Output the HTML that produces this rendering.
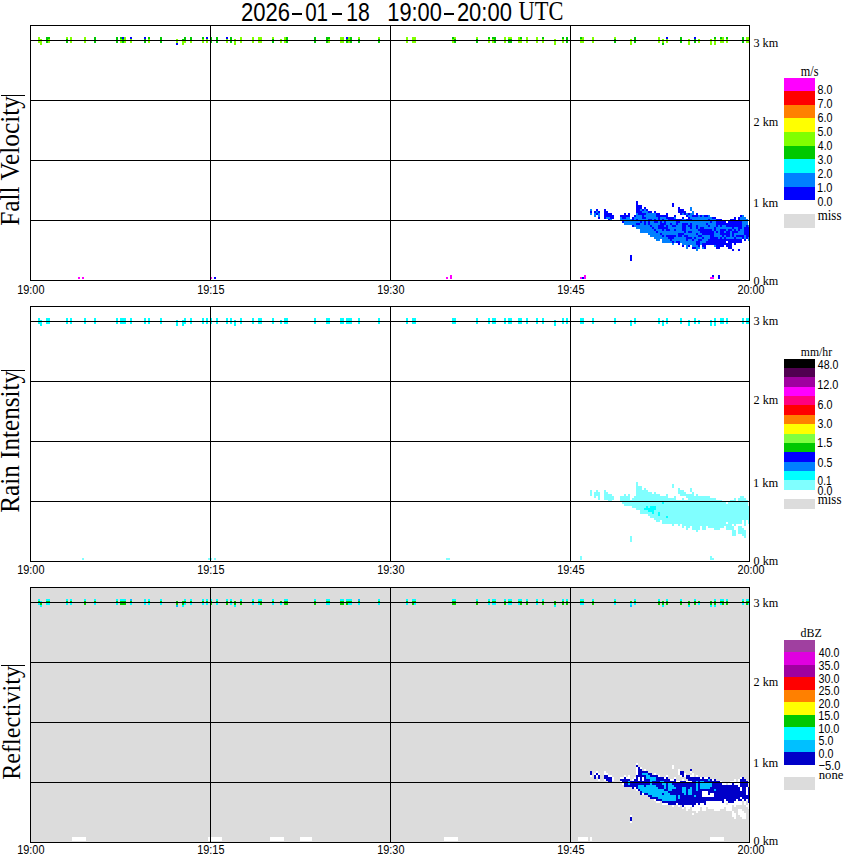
<!DOCTYPE html>
<html><head><meta charset="utf-8"><style>
html,body{margin:0;padding:0;background:#fff;width:850px;height:868px;overflow:hidden}
svg{display:block}
</style></head><body>
<svg width="850" height="868" viewBox="0 0 850 868" shape-rendering="crispEdges">
<rect x="30" y="587" width="719" height="255" fill="#dcdcdc"/>
<rect x="590" y="209" width="2" height="2" fill="#0080ff"/>
<rect x="596" y="209" width="2" height="2" fill="#0000ff"/>
<rect x="604" y="209" width="2" height="2" fill="#0000ff"/>
<rect x="590" y="211" width="2" height="2" fill="#0000ff"/>
<rect x="594" y="211" width="2" height="2" fill="#0000ff"/>
<rect x="596" y="211" width="2" height="2" fill="#0080ff"/>
<rect x="598" y="211" width="2" height="2" fill="#0000ff"/>
<rect x="604" y="211" width="4" height="2" fill="#0000ff"/>
<rect x="590" y="213" width="2" height="2" fill="#0080ff"/>
<rect x="594" y="213" width="2" height="2" fill="#0080ff"/>
<rect x="596" y="213" width="2" height="2" fill="#0000ff"/>
<rect x="598" y="213" width="2" height="2" fill="#0080ff"/>
<rect x="604" y="213" width="8" height="2" fill="#0000ff"/>
<rect x="624" y="213" width="2" height="2" fill="#0000ff"/>
<rect x="594" y="215" width="2" height="2" fill="#0080ff"/>
<rect x="598" y="215" width="2" height="2" fill="#0080ff"/>
<rect x="604" y="215" width="10" height="2" fill="#0000ff"/>
<rect x="620" y="215" width="8" height="2" fill="#0000ff"/>
<rect x="598" y="217" width="2" height="2" fill="#0000ff"/>
<rect x="604" y="217" width="2" height="2" fill="#0000ff"/>
<rect x="606" y="217" width="4" height="2" fill="#0080ff"/>
<rect x="610" y="217" width="4" height="2" fill="#0000ff"/>
<rect x="620" y="217" width="2" height="2" fill="#0080ff"/>
<rect x="622" y="217" width="4" height="2" fill="#0000ff"/>
<rect x="626" y="217" width="2" height="2" fill="#0080ff"/>
<rect x="608" y="219" width="2" height="2" fill="#0000ff"/>
<rect x="610" y="219" width="2" height="2" fill="#0080ff"/>
<rect x="620" y="219" width="8" height="2" fill="#0080ff"/>
<rect x="622" y="221" width="2" height="2" fill="#0000ff"/>
<rect x="624" y="221" width="4" height="2" fill="#0080ff"/>
<rect x="624" y="223" width="4" height="2" fill="#0080ff"/>
<rect x="636" y="201" width="2" height="2" fill="#0000ff"/>
<rect x="636" y="203" width="2" height="2" fill="#0000ff"/>
<rect x="636" y="205" width="6" height="2" fill="#0000ff"/>
<rect x="636" y="207" width="6" height="2" fill="#0000ff"/>
<rect x="644" y="207" width="2" height="2" fill="#0000ff"/>
<rect x="636" y="209" width="4" height="2" fill="#0000ff"/>
<rect x="640" y="209" width="2" height="2" fill="#0080ff"/>
<rect x="642" y="209" width="2" height="2" fill="#0000ff"/>
<rect x="644" y="209" width="2" height="2" fill="#0080ff"/>
<rect x="646" y="209" width="2" height="2" fill="#0000ff"/>
<rect x="636" y="211" width="6" height="2" fill="#0000ff"/>
<rect x="642" y="211" width="6" height="2" fill="#0080ff"/>
<rect x="648" y="211" width="4" height="2" fill="#0000ff"/>
<rect x="654" y="211" width="2" height="2" fill="#0000ff"/>
<rect x="628" y="213" width="2" height="2" fill="#0000ff"/>
<rect x="636" y="213" width="2" height="2" fill="#0080ff"/>
<rect x="638" y="213" width="8" height="2" fill="#0000ff"/>
<rect x="646" y="213" width="10" height="2" fill="#0080ff"/>
<rect x="656" y="213" width="4" height="2" fill="#0000ff"/>
<rect x="666" y="213" width="2" height="2" fill="#0000ff"/>
<rect x="628" y="215" width="2" height="2" fill="#0000ff"/>
<rect x="634" y="215" width="2" height="2" fill="#0000ff"/>
<rect x="636" y="215" width="6" height="2" fill="#0080ff"/>
<rect x="642" y="215" width="2" height="2" fill="#0000ff"/>
<rect x="644" y="215" width="12" height="2" fill="#0080ff"/>
<rect x="656" y="215" width="12" height="2" fill="#0000ff"/>
<rect x="628" y="217" width="2" height="2" fill="#0080ff"/>
<rect x="632" y="217" width="2" height="2" fill="#0000ff"/>
<rect x="634" y="217" width="8" height="2" fill="#0080ff"/>
<rect x="642" y="217" width="4" height="2" fill="#0000ff"/>
<rect x="646" y="217" width="12" height="2" fill="#0080ff"/>
<rect x="658" y="217" width="2" height="2" fill="#0000ff"/>
<rect x="660" y="217" width="6" height="2" fill="#0080ff"/>
<rect x="666" y="217" width="4" height="2" fill="#0000ff"/>
<rect x="628" y="219" width="4" height="2" fill="#0080ff"/>
<rect x="632" y="219" width="2" height="2" fill="#0000ff"/>
<rect x="634" y="219" width="2" height="2" fill="#0080ff"/>
<rect x="636" y="219" width="2" height="2" fill="#0000ff"/>
<rect x="638" y="219" width="10" height="2" fill="#0080ff"/>
<rect x="648" y="219" width="4" height="2" fill="#0000ff"/>
<rect x="652" y="219" width="2" height="2" fill="#0080ff"/>
<rect x="654" y="219" width="2" height="2" fill="#0000ff"/>
<rect x="656" y="219" width="2" height="2" fill="#0080ff"/>
<rect x="658" y="219" width="2" height="2" fill="#0000ff"/>
<rect x="660" y="219" width="2" height="2" fill="#0080ff"/>
<rect x="662" y="219" width="2" height="2" fill="#0000ff"/>
<rect x="664" y="219" width="4" height="2" fill="#0080ff"/>
<rect x="668" y="219" width="2" height="2" fill="#0000ff"/>
<rect x="628" y="221" width="12" height="2" fill="#0080ff"/>
<rect x="640" y="221" width="2" height="2" fill="#0000ff"/>
<rect x="642" y="221" width="2" height="2" fill="#0080ff"/>
<rect x="644" y="221" width="2" height="2" fill="#0000ff"/>
<rect x="646" y="221" width="2" height="2" fill="#0080ff"/>
<rect x="648" y="221" width="2" height="2" fill="#0000ff"/>
<rect x="650" y="221" width="4" height="2" fill="#0080ff"/>
<rect x="654" y="221" width="4" height="2" fill="#0000ff"/>
<rect x="658" y="221" width="2" height="2" fill="#0080ff"/>
<rect x="660" y="221" width="2" height="2" fill="#0000ff"/>
<rect x="662" y="221" width="2" height="2" fill="#0080ff"/>
<rect x="664" y="221" width="2" height="2" fill="#0000ff"/>
<rect x="666" y="221" width="4" height="2" fill="#0080ff"/>
<rect x="628" y="223" width="8" height="2" fill="#0080ff"/>
<rect x="636" y="223" width="4" height="2" fill="#0000ff"/>
<rect x="640" y="223" width="4" height="2" fill="#0080ff"/>
<rect x="644" y="223" width="2" height="2" fill="#0000ff"/>
<rect x="646" y="223" width="2" height="2" fill="#0080ff"/>
<rect x="648" y="223" width="2" height="2" fill="#0000ff"/>
<rect x="650" y="223" width="10" height="2" fill="#0080ff"/>
<rect x="660" y="223" width="6" height="2" fill="#0000ff"/>
<rect x="666" y="223" width="4" height="2" fill="#0080ff"/>
<rect x="632" y="225" width="2" height="2" fill="#0000ff"/>
<rect x="634" y="225" width="16" height="2" fill="#0080ff"/>
<rect x="650" y="225" width="2" height="2" fill="#0000ff"/>
<rect x="652" y="225" width="6" height="2" fill="#0080ff"/>
<rect x="658" y="225" width="6" height="2" fill="#0000ff"/>
<rect x="664" y="225" width="2" height="2" fill="#0080ff"/>
<rect x="666" y="225" width="2" height="2" fill="#0000ff"/>
<rect x="668" y="225" width="2" height="2" fill="#0080ff"/>
<rect x="636" y="227" width="16" height="2" fill="#0080ff"/>
<rect x="652" y="227" width="2" height="2" fill="#0000ff"/>
<rect x="654" y="227" width="4" height="2" fill="#0080ff"/>
<rect x="658" y="227" width="10" height="2" fill="#0000ff"/>
<rect x="668" y="227" width="2" height="2" fill="#0080ff"/>
<rect x="640" y="229" width="14" height="2" fill="#0080ff"/>
<rect x="654" y="229" width="2" height="2" fill="#0000ff"/>
<rect x="656" y="229" width="6" height="2" fill="#0080ff"/>
<rect x="662" y="229" width="2" height="2" fill="#0000ff"/>
<rect x="664" y="229" width="2" height="2" fill="#0080ff"/>
<rect x="666" y="229" width="4" height="2" fill="#0000ff"/>
<rect x="640" y="231" width="16" height="2" fill="#0080ff"/>
<rect x="656" y="231" width="2" height="2" fill="#0000ff"/>
<rect x="658" y="231" width="12" height="2" fill="#0080ff"/>
<rect x="648" y="233" width="12" height="2" fill="#0080ff"/>
<rect x="660" y="233" width="2" height="2" fill="#0000ff"/>
<rect x="662" y="233" width="8" height="2" fill="#0080ff"/>
<rect x="650" y="235" width="12" height="2" fill="#0080ff"/>
<rect x="662" y="235" width="2" height="2" fill="#0000ff"/>
<rect x="664" y="235" width="2" height="2" fill="#0080ff"/>
<rect x="666" y="235" width="4" height="2" fill="#0000ff"/>
<rect x="654" y="237" width="14" height="2" fill="#0080ff"/>
<rect x="668" y="237" width="2" height="2" fill="#0000ff"/>
<rect x="656" y="239" width="4" height="2" fill="#0080ff"/>
<rect x="662" y="239" width="8" height="2" fill="#0080ff"/>
<rect x="662" y="241" width="8" height="2" fill="#0080ff"/>
<rect x="630" y="255" width="2" height="2" fill="#0000ff"/>
<rect x="630" y="257" width="2" height="2" fill="#0000ff"/>
<rect x="630" y="259" width="2" height="2" fill="#0000ff"/>
<rect x="672" y="203" width="2" height="2" fill="#0000ff"/>
<rect x="672" y="205" width="2" height="2" fill="#0000ff"/>
<rect x="678" y="207" width="2" height="2" fill="#0000ff"/>
<rect x="690" y="207" width="2" height="2" fill="#0080ff"/>
<rect x="678" y="209" width="6" height="2" fill="#0000ff"/>
<rect x="690" y="209" width="2" height="2" fill="#0080ff"/>
<rect x="678" y="211" width="8" height="2" fill="#0000ff"/>
<rect x="692" y="211" width="2" height="2" fill="#0080ff"/>
<rect x="680" y="213" width="2" height="2" fill="#0000ff"/>
<rect x="682" y="213" width="2" height="2" fill="#0080ff"/>
<rect x="684" y="213" width="2" height="2" fill="#0000ff"/>
<rect x="686" y="213" width="2" height="2" fill="#0080ff"/>
<rect x="688" y="213" width="2" height="2" fill="#0000ff"/>
<rect x="690" y="213" width="4" height="2" fill="#0080ff"/>
<rect x="696" y="213" width="2" height="2" fill="#0000ff"/>
<rect x="674" y="215" width="2" height="2" fill="#0000ff"/>
<rect x="686" y="215" width="2" height="2" fill="#0000ff"/>
<rect x="688" y="215" width="4" height="2" fill="#0080ff"/>
<rect x="692" y="215" width="6" height="2" fill="#0000ff"/>
<rect x="698" y="215" width="2" height="2" fill="#0080ff"/>
<rect x="700" y="215" width="2" height="2" fill="#0000ff"/>
<rect x="702" y="215" width="2" height="2" fill="#0080ff"/>
<rect x="704" y="215" width="4" height="2" fill="#0000ff"/>
<rect x="708" y="215" width="2" height="2" fill="#0080ff"/>
<rect x="670" y="217" width="4" height="2" fill="#0000ff"/>
<rect x="674" y="217" width="2" height="2" fill="#0080ff"/>
<rect x="682" y="217" width="2" height="2" fill="#0000ff"/>
<rect x="688" y="217" width="2" height="2" fill="#0000ff"/>
<rect x="690" y="217" width="22" height="2" fill="#0080ff"/>
<rect x="670" y="219" width="12" height="2" fill="#0000ff"/>
<rect x="682" y="219" width="4" height="2" fill="#0080ff"/>
<rect x="686" y="219" width="6" height="2" fill="#0000ff"/>
<rect x="692" y="219" width="16" height="2" fill="#0080ff"/>
<rect x="708" y="219" width="2" height="2" fill="#0000ff"/>
<rect x="710" y="219" width="2" height="2" fill="#0080ff"/>
<rect x="670" y="221" width="6" height="2" fill="#0080ff"/>
<rect x="676" y="221" width="4" height="2" fill="#0000ff"/>
<rect x="680" y="221" width="30" height="2" fill="#0080ff"/>
<rect x="710" y="221" width="2" height="2" fill="#0000ff"/>
<rect x="670" y="223" width="2" height="2" fill="#0000ff"/>
<rect x="672" y="223" width="4" height="2" fill="#0080ff"/>
<rect x="676" y="223" width="2" height="2" fill="#0000ff"/>
<rect x="678" y="223" width="4" height="2" fill="#0080ff"/>
<rect x="682" y="223" width="6" height="2" fill="#0000ff"/>
<rect x="688" y="223" width="2" height="2" fill="#0080ff"/>
<rect x="690" y="223" width="2" height="2" fill="#0000ff"/>
<rect x="692" y="223" width="14" height="2" fill="#0080ff"/>
<rect x="706" y="223" width="2" height="2" fill="#0000ff"/>
<rect x="708" y="223" width="4" height="2" fill="#0080ff"/>
<rect x="670" y="225" width="2" height="2" fill="#0080ff"/>
<rect x="672" y="225" width="4" height="2" fill="#0000ff"/>
<rect x="676" y="225" width="6" height="2" fill="#0080ff"/>
<rect x="682" y="225" width="4" height="2" fill="#0000ff"/>
<rect x="686" y="225" width="2" height="2" fill="#0080ff"/>
<rect x="688" y="225" width="4" height="2" fill="#0000ff"/>
<rect x="692" y="225" width="4" height="2" fill="#0080ff"/>
<rect x="696" y="225" width="2" height="2" fill="#0000ff"/>
<rect x="698" y="225" width="10" height="2" fill="#0080ff"/>
<rect x="708" y="225" width="2" height="2" fill="#0000ff"/>
<rect x="710" y="225" width="2" height="2" fill="#0080ff"/>
<rect x="670" y="227" width="12" height="2" fill="#0080ff"/>
<rect x="682" y="227" width="4" height="2" fill="#0000ff"/>
<rect x="686" y="227" width="4" height="2" fill="#0080ff"/>
<rect x="690" y="227" width="2" height="2" fill="#0000ff"/>
<rect x="692" y="227" width="4" height="2" fill="#0080ff"/>
<rect x="696" y="227" width="2" height="2" fill="#0000ff"/>
<rect x="698" y="227" width="2" height="2" fill="#0080ff"/>
<rect x="700" y="227" width="4" height="2" fill="#0000ff"/>
<rect x="704" y="227" width="8" height="2" fill="#0080ff"/>
<rect x="670" y="229" width="4" height="2" fill="#0080ff"/>
<rect x="674" y="229" width="2" height="2" fill="#0000ff"/>
<rect x="676" y="229" width="6" height="2" fill="#0080ff"/>
<rect x="682" y="229" width="4" height="2" fill="#0000ff"/>
<rect x="686" y="229" width="12" height="2" fill="#0080ff"/>
<rect x="698" y="229" width="14" height="2" fill="#0000ff"/>
<rect x="670" y="231" width="14" height="2" fill="#0080ff"/>
<rect x="684" y="231" width="2" height="2" fill="#0000ff"/>
<rect x="686" y="231" width="2" height="2" fill="#0080ff"/>
<rect x="688" y="231" width="4" height="2" fill="#0000ff"/>
<rect x="692" y="231" width="8" height="2" fill="#0080ff"/>
<rect x="700" y="231" width="12" height="2" fill="#0000ff"/>
<rect x="670" y="233" width="8" height="2" fill="#0080ff"/>
<rect x="678" y="233" width="6" height="2" fill="#0000ff"/>
<rect x="684" y="233" width="12" height="2" fill="#0080ff"/>
<rect x="696" y="233" width="2" height="2" fill="#0000ff"/>
<rect x="698" y="233" width="4" height="2" fill="#0080ff"/>
<rect x="702" y="233" width="10" height="2" fill="#0000ff"/>
<rect x="670" y="235" width="6" height="2" fill="#0000ff"/>
<rect x="676" y="235" width="2" height="2" fill="#0080ff"/>
<rect x="678" y="235" width="4" height="2" fill="#0000ff"/>
<rect x="682" y="235" width="2" height="2" fill="#0080ff"/>
<rect x="684" y="235" width="4" height="2" fill="#0000ff"/>
<rect x="688" y="235" width="10" height="2" fill="#0080ff"/>
<rect x="698" y="235" width="4" height="2" fill="#0000ff"/>
<rect x="702" y="235" width="8" height="2" fill="#0080ff"/>
<rect x="710" y="235" width="2" height="2" fill="#0000ff"/>
<rect x="670" y="237" width="4" height="2" fill="#0000ff"/>
<rect x="674" y="237" width="12" height="2" fill="#0080ff"/>
<rect x="686" y="237" width="6" height="2" fill="#0000ff"/>
<rect x="692" y="237" width="2" height="2" fill="#0080ff"/>
<rect x="694" y="237" width="2" height="2" fill="#0000ff"/>
<rect x="696" y="237" width="6" height="2" fill="#0080ff"/>
<rect x="702" y="237" width="2" height="2" fill="#0000ff"/>
<rect x="704" y="237" width="6" height="2" fill="#0080ff"/>
<rect x="710" y="237" width="2" height="2" fill="#0000ff"/>
<rect x="670" y="239" width="2" height="2" fill="#0000ff"/>
<rect x="672" y="239" width="14" height="2" fill="#0080ff"/>
<rect x="686" y="239" width="2" height="2" fill="#0000ff"/>
<rect x="688" y="239" width="4" height="2" fill="#0080ff"/>
<rect x="692" y="239" width="2" height="2" fill="#0000ff"/>
<rect x="694" y="239" width="4" height="2" fill="#0080ff"/>
<rect x="698" y="239" width="4" height="2" fill="#0000ff"/>
<rect x="702" y="239" width="6" height="2" fill="#0080ff"/>
<rect x="708" y="239" width="4" height="2" fill="#0000ff"/>
<rect x="670" y="241" width="2" height="2" fill="#0080ff"/>
<rect x="672" y="241" width="2" height="2" fill="#0000ff"/>
<rect x="674" y="241" width="2" height="2" fill="#0080ff"/>
<rect x="676" y="241" width="4" height="2" fill="#0000ff"/>
<rect x="680" y="241" width="16" height="2" fill="#0080ff"/>
<rect x="696" y="241" width="4" height="2" fill="#0000ff"/>
<rect x="700" y="241" width="6" height="2" fill="#0080ff"/>
<rect x="706" y="241" width="6" height="2" fill="#0000ff"/>
<rect x="672" y="243" width="2" height="2" fill="#0080ff"/>
<rect x="678" y="243" width="2" height="2" fill="#0000ff"/>
<rect x="682" y="243" width="14" height="2" fill="#0080ff"/>
<rect x="696" y="243" width="4" height="2" fill="#0000ff"/>
<rect x="700" y="243" width="2" height="2" fill="#0080ff"/>
<rect x="702" y="243" width="10" height="2" fill="#0000ff"/>
<rect x="682" y="245" width="2" height="2" fill="#0000ff"/>
<rect x="686" y="245" width="2" height="2" fill="#0080ff"/>
<rect x="688" y="245" width="2" height="2" fill="#0000ff"/>
<rect x="692" y="245" width="6" height="2" fill="#0080ff"/>
<rect x="698" y="245" width="2" height="2" fill="#0000ff"/>
<rect x="702" y="245" width="4" height="2" fill="#0000ff"/>
<rect x="686" y="247" width="2" height="2" fill="#0080ff"/>
<rect x="692" y="247" width="4" height="2" fill="#0000ff"/>
<rect x="696" y="247" width="4" height="2" fill="#0080ff"/>
<rect x="702" y="247" width="2" height="2" fill="#0080ff"/>
<rect x="704" y="247" width="2" height="2" fill="#0000ff"/>
<rect x="696" y="249" width="2" height="2" fill="#0080ff"/>
<rect x="740" y="215" width="2" height="2" fill="#0000ff"/>
<rect x="742" y="215" width="2" height="2" fill="#0080ff"/>
<rect x="712" y="217" width="4" height="2" fill="#0000ff"/>
<rect x="734" y="217" width="2" height="2" fill="#0000ff"/>
<rect x="738" y="217" width="2" height="2" fill="#0000ff"/>
<rect x="740" y="217" width="6" height="2" fill="#0080ff"/>
<rect x="712" y="219" width="4" height="2" fill="#0080ff"/>
<rect x="716" y="219" width="6" height="2" fill="#0000ff"/>
<rect x="730" y="219" width="6" height="2" fill="#0000ff"/>
<rect x="738" y="219" width="2" height="2" fill="#0000ff"/>
<rect x="740" y="219" width="8" height="2" fill="#0080ff"/>
<rect x="712" y="221" width="4" height="2" fill="#0080ff"/>
<rect x="716" y="221" width="10" height="2" fill="#0000ff"/>
<rect x="728" y="221" width="14" height="2" fill="#0000ff"/>
<rect x="742" y="221" width="6" height="2" fill="#0080ff"/>
<rect x="712" y="223" width="4" height="2" fill="#0080ff"/>
<rect x="716" y="223" width="26" height="2" fill="#0000ff"/>
<rect x="742" y="223" width="6" height="2" fill="#0080ff"/>
<rect x="712" y="225" width="4" height="2" fill="#0080ff"/>
<rect x="716" y="225" width="2" height="2" fill="#0000ff"/>
<rect x="718" y="225" width="2" height="2" fill="#0080ff"/>
<rect x="720" y="225" width="2" height="2" fill="#0000ff"/>
<rect x="722" y="225" width="4" height="2" fill="#0080ff"/>
<rect x="726" y="225" width="16" height="2" fill="#0000ff"/>
<rect x="742" y="225" width="4" height="2" fill="#0080ff"/>
<rect x="746" y="225" width="2" height="2" fill="#0000ff"/>
<rect x="748" y="225" width="2" height="2" fill="#0080ff"/>
<rect x="712" y="227" width="2" height="2" fill="#0080ff"/>
<rect x="714" y="227" width="2" height="2" fill="#0000ff"/>
<rect x="716" y="227" width="16" height="2" fill="#0080ff"/>
<rect x="732" y="227" width="2" height="2" fill="#0000ff"/>
<rect x="734" y="227" width="4" height="2" fill="#0080ff"/>
<rect x="738" y="227" width="4" height="2" fill="#0000ff"/>
<rect x="742" y="227" width="2" height="2" fill="#0080ff"/>
<rect x="744" y="227" width="6" height="2" fill="#0000ff"/>
<rect x="712" y="229" width="2" height="2" fill="#0080ff"/>
<rect x="714" y="229" width="2" height="2" fill="#0000ff"/>
<rect x="716" y="229" width="4" height="2" fill="#0080ff"/>
<rect x="720" y="229" width="6" height="2" fill="#0000ff"/>
<rect x="726" y="229" width="2" height="2" fill="#0080ff"/>
<rect x="728" y="229" width="4" height="2" fill="#0000ff"/>
<rect x="732" y="229" width="2" height="2" fill="#0080ff"/>
<rect x="734" y="229" width="2" height="2" fill="#0000ff"/>
<rect x="736" y="229" width="2" height="2" fill="#0080ff"/>
<rect x="738" y="229" width="2" height="2" fill="#0000ff"/>
<rect x="740" y="229" width="4" height="2" fill="#0080ff"/>
<rect x="744" y="229" width="6" height="2" fill="#0000ff"/>
<rect x="712" y="231" width="2" height="2" fill="#0000ff"/>
<rect x="714" y="231" width="2" height="2" fill="#0080ff"/>
<rect x="716" y="231" width="2" height="2" fill="#0000ff"/>
<rect x="718" y="231" width="2" height="2" fill="#0080ff"/>
<rect x="720" y="231" width="4" height="2" fill="#0000ff"/>
<rect x="724" y="231" width="2" height="2" fill="#0080ff"/>
<rect x="726" y="231" width="4" height="2" fill="#0000ff"/>
<rect x="730" y="231" width="2" height="2" fill="#0080ff"/>
<rect x="732" y="231" width="6" height="2" fill="#0000ff"/>
<rect x="738" y="231" width="6" height="2" fill="#0080ff"/>
<rect x="744" y="231" width="6" height="2" fill="#0000ff"/>
<rect x="712" y="233" width="2" height="2" fill="#0000ff"/>
<rect x="714" y="233" width="6" height="2" fill="#0080ff"/>
<rect x="720" y="233" width="10" height="2" fill="#0000ff"/>
<rect x="730" y="233" width="2" height="2" fill="#0080ff"/>
<rect x="732" y="233" width="2" height="2" fill="#0000ff"/>
<rect x="734" y="233" width="10" height="2" fill="#0080ff"/>
<rect x="744" y="233" width="6" height="2" fill="#0000ff"/>
<rect x="712" y="235" width="2" height="2" fill="#0000ff"/>
<rect x="714" y="235" width="8" height="2" fill="#0080ff"/>
<rect x="722" y="235" width="2" height="2" fill="#0000ff"/>
<rect x="724" y="235" width="2" height="2" fill="#0080ff"/>
<rect x="726" y="235" width="4" height="2" fill="#0000ff"/>
<rect x="730" y="235" width="2" height="2" fill="#0080ff"/>
<rect x="732" y="235" width="2" height="2" fill="#0000ff"/>
<rect x="734" y="235" width="2" height="2" fill="#0080ff"/>
<rect x="736" y="235" width="8" height="2" fill="#0000ff"/>
<rect x="744" y="235" width="2" height="2" fill="#0080ff"/>
<rect x="746" y="235" width="4" height="2" fill="#0000ff"/>
<rect x="712" y="237" width="6" height="2" fill="#0000ff"/>
<rect x="718" y="237" width="2" height="2" fill="#0080ff"/>
<rect x="720" y="237" width="2" height="2" fill="#0000ff"/>
<rect x="722" y="237" width="2" height="2" fill="#0080ff"/>
<rect x="724" y="237" width="2" height="2" fill="#0000ff"/>
<rect x="726" y="237" width="8" height="2" fill="#0080ff"/>
<rect x="734" y="237" width="2" height="2" fill="#0000ff"/>
<rect x="736" y="237" width="6" height="2" fill="#0080ff"/>
<rect x="742" y="237" width="2" height="2" fill="#0000ff"/>
<rect x="744" y="237" width="2" height="2" fill="#0080ff"/>
<rect x="746" y="237" width="2" height="2" fill="#0000ff"/>
<rect x="748" y="237" width="2" height="2" fill="#0080ff"/>
<rect x="712" y="239" width="30" height="2" fill="#0000ff"/>
<rect x="744" y="239" width="2" height="2" fill="#0000ff"/>
<rect x="748" y="239" width="2" height="2" fill="#0080ff"/>
<rect x="712" y="241" width="14" height="2" fill="#0000ff"/>
<rect x="728" y="241" width="14" height="2" fill="#0000ff"/>
<rect x="712" y="243" width="20" height="2" fill="#0000ff"/>
<rect x="734" y="243" width="2" height="2" fill="#0000ff"/>
<rect x="714" y="245" width="2" height="2" fill="#0080ff"/>
<rect x="716" y="245" width="8" height="2" fill="#0000ff"/>
<rect x="726" y="245" width="6" height="2" fill="#0000ff"/>
<rect x="716" y="247" width="4" height="2" fill="#0000ff"/>
<rect x="728" y="247" width="4" height="2" fill="#0000ff"/>
<rect x="732" y="249" width="2" height="2" fill="#0000ff"/>
<rect x="738" y="249" width="2" height="2" fill="#0000ff"/>
<rect x="38" y="37" width="2" height="2" fill="#80ff00"/>
<rect x="38" y="39" width="2" height="2" fill="#80ff00"/>
<rect x="38" y="41" width="2" height="2" fill="#80ff00"/>
<rect x="38" y="318" width="2" height="6" fill="#00ffff"/>
<rect x="38" y="599" width="2" height="2" fill="#00ffff"/>
<rect x="38" y="601" width="2" height="2" fill="#00c800"/>
<rect x="38" y="603" width="2" height="2" fill="#00ffff"/>
<rect x="40" y="39" width="2" height="2" fill="#80ff00"/>
<rect x="40" y="41" width="2" height="2" fill="#80ff00"/>
<rect x="40" y="43" width="2" height="2" fill="#80ff00"/>
<rect x="40" y="320" width="2" height="6" fill="#00ffff"/>
<rect x="40" y="601" width="2" height="2" fill="#00ffff"/>
<rect x="40" y="603" width="2" height="2" fill="#00c800"/>
<rect x="40" y="605" width="2" height="2" fill="#00ffff"/>
<rect x="46" y="37" width="2" height="2" fill="#00c800"/>
<rect x="46" y="39" width="2" height="2" fill="#00c800"/>
<rect x="46" y="41" width="2" height="2" fill="#00c800"/>
<rect x="46" y="318" width="2" height="6" fill="#00ffff"/>
<rect x="46" y="599" width="2" height="2" fill="#00ffff"/>
<rect x="46" y="601" width="2" height="2" fill="#00c800"/>
<rect x="46" y="603" width="2" height="2" fill="#00ffff"/>
<rect x="48" y="37" width="2" height="2" fill="#00c800"/>
<rect x="48" y="39" width="2" height="2" fill="#80ff00"/>
<rect x="48" y="41" width="2" height="2" fill="#80ff00"/>
<rect x="48" y="318" width="2" height="6" fill="#00ffff"/>
<rect x="48" y="599" width="2" height="2" fill="#00ffff"/>
<rect x="48" y="601" width="2" height="2" fill="#00c800"/>
<rect x="48" y="603" width="2" height="2" fill="#00ffff"/>
<rect x="66" y="37" width="2" height="2" fill="#80ff00"/>
<rect x="66" y="39" width="2" height="2" fill="#00c800"/>
<rect x="66" y="41" width="2" height="2" fill="#00c800"/>
<rect x="66" y="318" width="2" height="6" fill="#00ffff"/>
<rect x="66" y="599" width="2" height="2" fill="#00ffff"/>
<rect x="66" y="601" width="2" height="2" fill="#00c800"/>
<rect x="66" y="603" width="2" height="2" fill="#00ffff"/>
<rect x="70" y="37" width="2" height="2" fill="#80ff00"/>
<rect x="70" y="39" width="2" height="2" fill="#80ff00"/>
<rect x="70" y="41" width="2" height="2" fill="#80ff00"/>
<rect x="70" y="318" width="2" height="6" fill="#00ffff"/>
<rect x="70" y="599" width="2" height="2" fill="#00ffff"/>
<rect x="70" y="601" width="2" height="2" fill="#00c800"/>
<rect x="70" y="603" width="2" height="2" fill="#00ffff"/>
<rect x="84" y="37" width="2" height="2" fill="#80ff00"/>
<rect x="84" y="39" width="2" height="2" fill="#80ff00"/>
<rect x="84" y="41" width="2" height="2" fill="#80ff00"/>
<rect x="84" y="318" width="2" height="6" fill="#00ffff"/>
<rect x="84" y="599" width="2" height="2" fill="#00ffff"/>
<rect x="84" y="601" width="2" height="2" fill="#00c800"/>
<rect x="84" y="603" width="2" height="2" fill="#00c800"/>
<rect x="94" y="37" width="2" height="2" fill="#00c800"/>
<rect x="94" y="39" width="2" height="2" fill="#00c800"/>
<rect x="94" y="41" width="2" height="2" fill="#00c800"/>
<rect x="94" y="318" width="2" height="6" fill="#00ffff"/>
<rect x="94" y="599" width="2" height="2" fill="#00ffff"/>
<rect x="94" y="601" width="2" height="2" fill="#00c800"/>
<rect x="94" y="603" width="2" height="2" fill="#00ffff"/>
<rect x="116" y="37" width="2" height="2" fill="#00c800"/>
<rect x="116" y="39" width="2" height="2" fill="#00c800"/>
<rect x="116" y="41" width="2" height="2" fill="#00c800"/>
<rect x="116" y="318" width="2" height="6" fill="#00ffff"/>
<rect x="116" y="599" width="2" height="2" fill="#00ffff"/>
<rect x="116" y="601" width="2" height="2" fill="#00c800"/>
<rect x="116" y="603" width="2" height="2" fill="#00ffff"/>
<rect x="120" y="37" width="2" height="2" fill="#00c800"/>
<rect x="120" y="39" width="2" height="2" fill="#80ff00"/>
<rect x="120" y="41" width="2" height="2" fill="#80ff00"/>
<rect x="120" y="318" width="2" height="6" fill="#00ffff"/>
<rect x="120" y="599" width="2" height="2" fill="#00ffff"/>
<rect x="120" y="601" width="2" height="2" fill="#00c800"/>
<rect x="120" y="603" width="2" height="2" fill="#00c800"/>
<rect x="122" y="37" width="2" height="2" fill="#0000ff"/>
<rect x="122" y="39" width="2" height="2" fill="#00c800"/>
<rect x="122" y="41" width="2" height="2" fill="#00c800"/>
<rect x="122" y="318" width="2" height="6" fill="#00ffff"/>
<rect x="122" y="599" width="2" height="2" fill="#00ffff"/>
<rect x="122" y="601" width="2" height="2" fill="#00c800"/>
<rect x="122" y="603" width="2" height="2" fill="#00c800"/>
<rect x="124" y="37" width="2" height="2" fill="#80ff00"/>
<rect x="124" y="39" width="2" height="2" fill="#80ff00"/>
<rect x="124" y="41" width="2" height="2" fill="#80ff00"/>
<rect x="124" y="318" width="2" height="6" fill="#00ffff"/>
<rect x="124" y="599" width="2" height="2" fill="#00ffff"/>
<rect x="124" y="601" width="2" height="2" fill="#00c800"/>
<rect x="124" y="603" width="2" height="2" fill="#00c800"/>
<rect x="130" y="37" width="2" height="2" fill="#0000ff"/>
<rect x="130" y="39" width="2" height="2" fill="#80ff00"/>
<rect x="130" y="41" width="2" height="2" fill="#80ff00"/>
<rect x="130" y="318" width="2" height="6" fill="#00ffff"/>
<rect x="130" y="599" width="2" height="2" fill="#00c0ff"/>
<rect x="130" y="601" width="2" height="2" fill="#00c800"/>
<rect x="130" y="603" width="2" height="2" fill="#00ffff"/>
<rect x="144" y="37" width="2" height="2" fill="#0000ff"/>
<rect x="144" y="39" width="2" height="2" fill="#00c800"/>
<rect x="144" y="41" width="2" height="2" fill="#00c800"/>
<rect x="144" y="318" width="2" height="6" fill="#00ffff"/>
<rect x="144" y="599" width="2" height="2" fill="#00ffff"/>
<rect x="144" y="601" width="2" height="2" fill="#00ffff"/>
<rect x="144" y="603" width="2" height="2" fill="#00ffff"/>
<rect x="148" y="37" width="2" height="2" fill="#00c800"/>
<rect x="148" y="39" width="2" height="2" fill="#80ff00"/>
<rect x="148" y="41" width="2" height="2" fill="#80ff00"/>
<rect x="148" y="318" width="2" height="6" fill="#00ffff"/>
<rect x="148" y="599" width="2" height="2" fill="#00ffff"/>
<rect x="148" y="601" width="2" height="2" fill="#00c800"/>
<rect x="148" y="603" width="2" height="2" fill="#00ffff"/>
<rect x="160" y="37" width="2" height="2" fill="#00c800"/>
<rect x="160" y="39" width="2" height="2" fill="#00c800"/>
<rect x="160" y="41" width="2" height="2" fill="#00c800"/>
<rect x="160" y="318" width="2" height="6" fill="#00ffff"/>
<rect x="160" y="599" width="2" height="2" fill="#00ffff"/>
<rect x="160" y="601" width="2" height="2" fill="#00c800"/>
<rect x="160" y="603" width="2" height="2" fill="#00ffff"/>
<rect x="176" y="39" width="2" height="2" fill="#80ff00"/>
<rect x="176" y="41" width="2" height="2" fill="#80ff00"/>
<rect x="176" y="43" width="2" height="2" fill="#0000ff"/>
<rect x="176" y="320" width="2" height="6" fill="#00ffff"/>
<rect x="176" y="601" width="2" height="2" fill="#00c800"/>
<rect x="176" y="603" width="2" height="2" fill="#00c800"/>
<rect x="176" y="605" width="2" height="2" fill="#00c0ff"/>
<rect x="182" y="39" width="2" height="2" fill="#00c800"/>
<rect x="182" y="41" width="2" height="2" fill="#80ff00"/>
<rect x="182" y="43" width="2" height="2" fill="#80ff00"/>
<rect x="182" y="320" width="2" height="6" fill="#00ffff"/>
<rect x="182" y="601" width="2" height="2" fill="#00c800"/>
<rect x="182" y="603" width="2" height="2" fill="#00c800"/>
<rect x="182" y="605" width="2" height="2" fill="#00ffff"/>
<rect x="184" y="37" width="2" height="2" fill="#00c800"/>
<rect x="184" y="39" width="2" height="2" fill="#00c800"/>
<rect x="184" y="41" width="2" height="2" fill="#80ff00"/>
<rect x="184" y="318" width="2" height="6" fill="#00ffff"/>
<rect x="184" y="599" width="2" height="2" fill="#00ffff"/>
<rect x="184" y="601" width="2" height="2" fill="#00c800"/>
<rect x="184" y="603" width="2" height="2" fill="#00ffff"/>
<rect x="190" y="37" width="2" height="2" fill="#00c800"/>
<rect x="190" y="39" width="2" height="2" fill="#00c800"/>
<rect x="190" y="41" width="2" height="2" fill="#80ff00"/>
<rect x="190" y="318" width="2" height="6" fill="#00ffff"/>
<rect x="190" y="599" width="2" height="2" fill="#00ffff"/>
<rect x="190" y="601" width="2" height="2" fill="#00c800"/>
<rect x="190" y="603" width="2" height="2" fill="#00ffff"/>
<rect x="202" y="37" width="2" height="2" fill="#00c800"/>
<rect x="202" y="39" width="2" height="2" fill="#80ff00"/>
<rect x="202" y="41" width="2" height="2" fill="#80ff00"/>
<rect x="202" y="318" width="2" height="6" fill="#00ffff"/>
<rect x="202" y="599" width="2" height="2" fill="#00ffff"/>
<rect x="202" y="601" width="2" height="2" fill="#00c800"/>
<rect x="202" y="603" width="2" height="2" fill="#00ffff"/>
<rect x="206" y="37" width="2" height="2" fill="#0000ff"/>
<rect x="206" y="39" width="2" height="2" fill="#80ff00"/>
<rect x="206" y="41" width="2" height="2" fill="#80ff00"/>
<rect x="206" y="318" width="2" height="6" fill="#00ffff"/>
<rect x="206" y="599" width="2" height="2" fill="#00ffff"/>
<rect x="206" y="601" width="2" height="2" fill="#00c800"/>
<rect x="206" y="603" width="2" height="2" fill="#00ffff"/>
<rect x="210" y="37" width="2" height="2" fill="#00c800"/>
<rect x="210" y="39" width="2" height="2" fill="#00c800"/>
<rect x="210" y="41" width="2" height="2" fill="#00c800"/>
<rect x="210" y="318" width="2" height="6" fill="#00ffff"/>
<rect x="210" y="599" width="2" height="2" fill="#00ffff"/>
<rect x="210" y="601" width="2" height="2" fill="#00c800"/>
<rect x="210" y="603" width="2" height="2" fill="#00c800"/>
<rect x="216" y="37" width="2" height="2" fill="#00c800"/>
<rect x="216" y="39" width="2" height="2" fill="#00c800"/>
<rect x="216" y="41" width="2" height="2" fill="#00c800"/>
<rect x="216" y="318" width="2" height="6" fill="#00ffff"/>
<rect x="216" y="599" width="2" height="2" fill="#00ffff"/>
<rect x="216" y="601" width="2" height="2" fill="#00c800"/>
<rect x="216" y="603" width="2" height="2" fill="#00ffff"/>
<rect x="226" y="37" width="2" height="2" fill="#0000ff"/>
<rect x="226" y="39" width="2" height="2" fill="#80ff00"/>
<rect x="226" y="41" width="2" height="2" fill="#80ff00"/>
<rect x="226" y="318" width="2" height="6" fill="#00ffff"/>
<rect x="226" y="599" width="2" height="2" fill="#00ffff"/>
<rect x="226" y="601" width="2" height="2" fill="#00c800"/>
<rect x="226" y="603" width="2" height="2" fill="#00c800"/>
<rect x="230" y="37" width="2" height="2" fill="#00c800"/>
<rect x="230" y="39" width="2" height="2" fill="#00c800"/>
<rect x="230" y="41" width="2" height="2" fill="#00c800"/>
<rect x="230" y="318" width="2" height="6" fill="#00ffff"/>
<rect x="230" y="599" width="2" height="2" fill="#00ffff"/>
<rect x="230" y="601" width="2" height="2" fill="#00c800"/>
<rect x="230" y="603" width="2" height="2" fill="#00ffff"/>
<rect x="234" y="39" width="2" height="2" fill="#80ff00"/>
<rect x="234" y="41" width="2" height="2" fill="#80ff00"/>
<rect x="234" y="43" width="2" height="2" fill="#80ff00"/>
<rect x="234" y="320" width="2" height="6" fill="#00ffff"/>
<rect x="234" y="601" width="2" height="2" fill="#00c800"/>
<rect x="234" y="603" width="2" height="2" fill="#00c800"/>
<rect x="234" y="605" width="2" height="2" fill="#00ffff"/>
<rect x="240" y="37" width="2" height="2" fill="#80ff00"/>
<rect x="240" y="39" width="2" height="2" fill="#80ff00"/>
<rect x="240" y="41" width="2" height="2" fill="#80ff00"/>
<rect x="240" y="318" width="2" height="6" fill="#00ffff"/>
<rect x="240" y="599" width="2" height="2" fill="#00ffff"/>
<rect x="240" y="601" width="2" height="2" fill="#00c800"/>
<rect x="240" y="603" width="2" height="2" fill="#00c800"/>
<rect x="252" y="37" width="2" height="2" fill="#80ff00"/>
<rect x="252" y="39" width="2" height="2" fill="#80ff00"/>
<rect x="252" y="41" width="2" height="2" fill="#80ff00"/>
<rect x="252" y="318" width="2" height="6" fill="#00ffff"/>
<rect x="252" y="599" width="2" height="2" fill="#00ffff"/>
<rect x="252" y="601" width="2" height="2" fill="#00c800"/>
<rect x="252" y="603" width="2" height="2" fill="#00ffff"/>
<rect x="258" y="37" width="2" height="2" fill="#80ff00"/>
<rect x="258" y="39" width="2" height="2" fill="#80ff00"/>
<rect x="258" y="41" width="2" height="2" fill="#80ff00"/>
<rect x="258" y="318" width="2" height="6" fill="#00ffff"/>
<rect x="258" y="599" width="2" height="2" fill="#00ffff"/>
<rect x="258" y="601" width="2" height="2" fill="#00c800"/>
<rect x="258" y="603" width="2" height="2" fill="#00ffff"/>
<rect x="260" y="37" width="2" height="2" fill="#80ff00"/>
<rect x="260" y="39" width="2" height="2" fill="#80ff00"/>
<rect x="260" y="41" width="2" height="2" fill="#80ff00"/>
<rect x="260" y="318" width="2" height="6" fill="#00ffff"/>
<rect x="260" y="599" width="2" height="2" fill="#00ffff"/>
<rect x="260" y="601" width="2" height="2" fill="#00c800"/>
<rect x="260" y="603" width="2" height="2" fill="#00c800"/>
<rect x="272" y="37" width="2" height="2" fill="#80ff00"/>
<rect x="272" y="39" width="2" height="2" fill="#00c800"/>
<rect x="272" y="41" width="2" height="2" fill="#00c800"/>
<rect x="272" y="318" width="2" height="6" fill="#00ffff"/>
<rect x="272" y="599" width="2" height="2" fill="#00ffff"/>
<rect x="272" y="601" width="2" height="2" fill="#00c800"/>
<rect x="272" y="603" width="2" height="2" fill="#00ffff"/>
<rect x="280" y="39" width="2" height="2" fill="#80ff00"/>
<rect x="280" y="41" width="2" height="2" fill="#80ff00"/>
<rect x="280" y="320" width="2" height="4" fill="#00ffff"/>
<rect x="280" y="601" width="2" height="2" fill="#00c800"/>
<rect x="280" y="603" width="2" height="2" fill="#00ffff"/>
<rect x="284" y="37" width="2" height="2" fill="#80ff00"/>
<rect x="284" y="39" width="2" height="2" fill="#80ff00"/>
<rect x="284" y="41" width="2" height="2" fill="#80ff00"/>
<rect x="284" y="318" width="2" height="6" fill="#00ffff"/>
<rect x="284" y="599" width="2" height="2" fill="#00ffff"/>
<rect x="284" y="601" width="2" height="2" fill="#00c800"/>
<rect x="284" y="603" width="2" height="2" fill="#00c800"/>
<rect x="286" y="37" width="2" height="2" fill="#00c800"/>
<rect x="286" y="39" width="2" height="2" fill="#00c800"/>
<rect x="286" y="41" width="2" height="2" fill="#00c800"/>
<rect x="286" y="318" width="2" height="6" fill="#00ffff"/>
<rect x="286" y="599" width="2" height="2" fill="#00ffff"/>
<rect x="286" y="601" width="2" height="2" fill="#00c800"/>
<rect x="286" y="603" width="2" height="2" fill="#00c800"/>
<rect x="314" y="37" width="2" height="2" fill="#00c800"/>
<rect x="314" y="39" width="2" height="2" fill="#00c800"/>
<rect x="314" y="41" width="2" height="2" fill="#00c800"/>
<rect x="314" y="318" width="2" height="6" fill="#00ffff"/>
<rect x="314" y="599" width="2" height="2" fill="#00ffff"/>
<rect x="314" y="601" width="2" height="2" fill="#00c800"/>
<rect x="314" y="603" width="2" height="2" fill="#00c800"/>
<rect x="326" y="37" width="2" height="2" fill="#00c800"/>
<rect x="326" y="39" width="2" height="2" fill="#00c800"/>
<rect x="326" y="41" width="2" height="2" fill="#00c800"/>
<rect x="326" y="318" width="2" height="6" fill="#00ffff"/>
<rect x="326" y="599" width="2" height="2" fill="#00ffff"/>
<rect x="326" y="601" width="2" height="2" fill="#00c800"/>
<rect x="326" y="603" width="2" height="2" fill="#00ffff"/>
<rect x="328" y="37" width="2" height="2" fill="#00c800"/>
<rect x="328" y="39" width="2" height="2" fill="#80ff00"/>
<rect x="328" y="41" width="2" height="2" fill="#80ff00"/>
<rect x="328" y="318" width="2" height="6" fill="#00ffff"/>
<rect x="328" y="599" width="2" height="2" fill="#00ffff"/>
<rect x="328" y="601" width="2" height="2" fill="#00c800"/>
<rect x="328" y="603" width="2" height="2" fill="#00ffff"/>
<rect x="340" y="37" width="2" height="2" fill="#80ff00"/>
<rect x="340" y="39" width="2" height="2" fill="#80ff00"/>
<rect x="340" y="41" width="2" height="2" fill="#80ff00"/>
<rect x="340" y="318" width="2" height="6" fill="#00ffff"/>
<rect x="340" y="599" width="2" height="2" fill="#00ffff"/>
<rect x="340" y="601" width="2" height="2" fill="#00c800"/>
<rect x="340" y="603" width="2" height="2" fill="#00c800"/>
<rect x="342" y="37" width="2" height="2" fill="#80ff00"/>
<rect x="342" y="39" width="2" height="2" fill="#80ff00"/>
<rect x="342" y="41" width="2" height="2" fill="#80ff00"/>
<rect x="342" y="318" width="2" height="6" fill="#00ffff"/>
<rect x="342" y="599" width="2" height="2" fill="#00ffff"/>
<rect x="342" y="601" width="2" height="2" fill="#00c800"/>
<rect x="342" y="603" width="2" height="2" fill="#00c800"/>
<rect x="346" y="37" width="2" height="2" fill="#0000ff"/>
<rect x="346" y="39" width="2" height="2" fill="#00c800"/>
<rect x="346" y="41" width="2" height="2" fill="#00c800"/>
<rect x="346" y="318" width="2" height="6" fill="#00ffff"/>
<rect x="346" y="599" width="2" height="2" fill="#00ffff"/>
<rect x="346" y="601" width="2" height="2" fill="#00c800"/>
<rect x="346" y="603" width="2" height="2" fill="#00c800"/>
<rect x="348" y="37" width="2" height="2" fill="#80ff00"/>
<rect x="348" y="39" width="2" height="2" fill="#80ff00"/>
<rect x="348" y="41" width="2" height="2" fill="#80ff00"/>
<rect x="348" y="318" width="2" height="6" fill="#00ffff"/>
<rect x="348" y="599" width="2" height="2" fill="#00ffff"/>
<rect x="348" y="601" width="2" height="2" fill="#00c800"/>
<rect x="348" y="603" width="2" height="2" fill="#00ffff"/>
<rect x="350" y="37" width="2" height="2" fill="#00c800"/>
<rect x="350" y="39" width="2" height="2" fill="#00c800"/>
<rect x="350" y="41" width="2" height="2" fill="#00c800"/>
<rect x="350" y="318" width="2" height="6" fill="#00ffff"/>
<rect x="350" y="599" width="2" height="2" fill="#00ffff"/>
<rect x="350" y="601" width="2" height="2" fill="#00c800"/>
<rect x="350" y="603" width="2" height="2" fill="#00ffff"/>
<rect x="358" y="37" width="2" height="2" fill="#80ff00"/>
<rect x="358" y="39" width="2" height="2" fill="#00c800"/>
<rect x="358" y="41" width="2" height="2" fill="#00c800"/>
<rect x="358" y="318" width="2" height="6" fill="#00ffff"/>
<rect x="358" y="599" width="2" height="2" fill="#00c0ff"/>
<rect x="358" y="601" width="2" height="2" fill="#00c800"/>
<rect x="358" y="603" width="2" height="2" fill="#00ffff"/>
<rect x="378" y="37" width="2" height="2" fill="#80ff00"/>
<rect x="378" y="39" width="2" height="2" fill="#00c800"/>
<rect x="378" y="41" width="2" height="2" fill="#00c800"/>
<rect x="378" y="318" width="2" height="6" fill="#00ffff"/>
<rect x="378" y="599" width="2" height="2" fill="#00ffff"/>
<rect x="378" y="601" width="2" height="2" fill="#00c800"/>
<rect x="378" y="603" width="2" height="2" fill="#00ffff"/>
<rect x="406" y="37" width="2" height="2" fill="#80ff00"/>
<rect x="406" y="39" width="2" height="2" fill="#80ff00"/>
<rect x="406" y="41" width="2" height="2" fill="#80ff00"/>
<rect x="406" y="318" width="2" height="6" fill="#00ffff"/>
<rect x="406" y="599" width="2" height="2" fill="#00ffff"/>
<rect x="406" y="601" width="2" height="2" fill="#00c800"/>
<rect x="406" y="603" width="2" height="2" fill="#00ffff"/>
<rect x="412" y="37" width="2" height="2" fill="#80ff00"/>
<rect x="412" y="39" width="2" height="2" fill="#80ff00"/>
<rect x="412" y="41" width="2" height="2" fill="#80ff00"/>
<rect x="412" y="318" width="2" height="6" fill="#00ffff"/>
<rect x="412" y="599" width="2" height="2" fill="#00ffff"/>
<rect x="412" y="601" width="2" height="2" fill="#00c800"/>
<rect x="412" y="603" width="2" height="2" fill="#00c800"/>
<rect x="414" y="37" width="2" height="2" fill="#80ff00"/>
<rect x="414" y="39" width="2" height="2" fill="#80ff00"/>
<rect x="414" y="41" width="2" height="2" fill="#80ff00"/>
<rect x="414" y="318" width="2" height="6" fill="#00ffff"/>
<rect x="414" y="599" width="2" height="2" fill="#00ffff"/>
<rect x="414" y="601" width="2" height="2" fill="#00c800"/>
<rect x="414" y="603" width="2" height="2" fill="#00ffff"/>
<rect x="452" y="37" width="2" height="2" fill="#00c800"/>
<rect x="452" y="39" width="2" height="2" fill="#80ff00"/>
<rect x="452" y="41" width="2" height="2" fill="#80ff00"/>
<rect x="452" y="318" width="2" height="6" fill="#00ffff"/>
<rect x="452" y="599" width="2" height="2" fill="#00ffff"/>
<rect x="452" y="601" width="2" height="2" fill="#00c800"/>
<rect x="452" y="603" width="2" height="2" fill="#00c800"/>
<rect x="454" y="37" width="2" height="2" fill="#80ff00"/>
<rect x="454" y="39" width="2" height="2" fill="#00c800"/>
<rect x="454" y="41" width="2" height="2" fill="#00c800"/>
<rect x="454" y="318" width="2" height="6" fill="#00ffff"/>
<rect x="454" y="599" width="2" height="2" fill="#00ffff"/>
<rect x="454" y="601" width="2" height="2" fill="#00c800"/>
<rect x="454" y="603" width="2" height="2" fill="#00c800"/>
<rect x="476" y="37" width="2" height="2" fill="#80ff00"/>
<rect x="476" y="39" width="2" height="2" fill="#00c800"/>
<rect x="476" y="41" width="2" height="2" fill="#00c800"/>
<rect x="476" y="318" width="2" height="6" fill="#00ffff"/>
<rect x="476" y="599" width="2" height="2" fill="#00ffff"/>
<rect x="476" y="601" width="2" height="2" fill="#00c800"/>
<rect x="476" y="603" width="2" height="2" fill="#00c800"/>
<rect x="488" y="37" width="2" height="2" fill="#00c800"/>
<rect x="488" y="39" width="2" height="2" fill="#80ff00"/>
<rect x="488" y="41" width="2" height="2" fill="#80ff00"/>
<rect x="488" y="318" width="2" height="6" fill="#00ffff"/>
<rect x="488" y="599" width="2" height="2" fill="#00ffff"/>
<rect x="488" y="601" width="2" height="2" fill="#00c800"/>
<rect x="488" y="603" width="2" height="2" fill="#00ffff"/>
<rect x="492" y="37" width="2" height="2" fill="#00c800"/>
<rect x="492" y="39" width="2" height="2" fill="#80ff00"/>
<rect x="492" y="41" width="2" height="2" fill="#80ff00"/>
<rect x="492" y="318" width="2" height="6" fill="#00ffff"/>
<rect x="492" y="599" width="2" height="2" fill="#00ffff"/>
<rect x="492" y="601" width="2" height="2" fill="#00c800"/>
<rect x="492" y="603" width="2" height="2" fill="#00ffff"/>
<rect x="494" y="37" width="2" height="2" fill="#00c800"/>
<rect x="494" y="39" width="2" height="2" fill="#00c800"/>
<rect x="494" y="41" width="2" height="2" fill="#00c800"/>
<rect x="494" y="318" width="2" height="6" fill="#00ffff"/>
<rect x="494" y="599" width="2" height="2" fill="#00ffff"/>
<rect x="494" y="601" width="2" height="2" fill="#00c800"/>
<rect x="494" y="603" width="2" height="2" fill="#00ffff"/>
<rect x="504" y="37" width="2" height="2" fill="#80ff00"/>
<rect x="504" y="39" width="2" height="2" fill="#80ff00"/>
<rect x="504" y="41" width="2" height="2" fill="#80ff00"/>
<rect x="504" y="318" width="2" height="6" fill="#00ffff"/>
<rect x="504" y="599" width="2" height="2" fill="#00ffff"/>
<rect x="504" y="601" width="2" height="2" fill="#00c800"/>
<rect x="504" y="603" width="2" height="2" fill="#00c800"/>
<rect x="508" y="37" width="2" height="2" fill="#80ff00"/>
<rect x="508" y="39" width="2" height="2" fill="#00c800"/>
<rect x="508" y="41" width="2" height="2" fill="#00c800"/>
<rect x="508" y="318" width="2" height="6" fill="#00ffff"/>
<rect x="508" y="599" width="2" height="2" fill="#00ffff"/>
<rect x="508" y="601" width="2" height="2" fill="#00c800"/>
<rect x="508" y="603" width="2" height="2" fill="#00ffff"/>
<rect x="510" y="37" width="2" height="2" fill="#80ff00"/>
<rect x="510" y="39" width="2" height="2" fill="#00c800"/>
<rect x="510" y="41" width="2" height="2" fill="#00c800"/>
<rect x="510" y="318" width="2" height="6" fill="#00ffff"/>
<rect x="510" y="599" width="2" height="2" fill="#00ffff"/>
<rect x="510" y="601" width="2" height="2" fill="#00c800"/>
<rect x="510" y="603" width="2" height="2" fill="#00ffff"/>
<rect x="518" y="37" width="2" height="2" fill="#80ff00"/>
<rect x="518" y="39" width="2" height="2" fill="#80ff00"/>
<rect x="518" y="41" width="2" height="2" fill="#80ff00"/>
<rect x="518" y="318" width="2" height="6" fill="#00ffff"/>
<rect x="518" y="599" width="2" height="2" fill="#00ffff"/>
<rect x="518" y="601" width="2" height="2" fill="#00c800"/>
<rect x="518" y="603" width="2" height="2" fill="#00ffff"/>
<rect x="520" y="37" width="2" height="2" fill="#00c800"/>
<rect x="520" y="39" width="2" height="2" fill="#80ff00"/>
<rect x="520" y="41" width="2" height="2" fill="#80ff00"/>
<rect x="520" y="318" width="2" height="6" fill="#00ffff"/>
<rect x="520" y="599" width="2" height="2" fill="#00ffff"/>
<rect x="520" y="601" width="2" height="2" fill="#00c800"/>
<rect x="520" y="603" width="2" height="2" fill="#00c800"/>
<rect x="526" y="37" width="2" height="2" fill="#80ff00"/>
<rect x="526" y="39" width="2" height="2" fill="#80ff00"/>
<rect x="526" y="41" width="2" height="2" fill="#80ff00"/>
<rect x="526" y="318" width="2" height="6" fill="#00ffff"/>
<rect x="526" y="599" width="2" height="2" fill="#00ffff"/>
<rect x="526" y="601" width="2" height="2" fill="#00c800"/>
<rect x="526" y="603" width="2" height="2" fill="#00c800"/>
<rect x="536" y="37" width="2" height="2" fill="#80ff00"/>
<rect x="536" y="39" width="2" height="2" fill="#80ff00"/>
<rect x="536" y="41" width="2" height="2" fill="#80ff00"/>
<rect x="536" y="318" width="2" height="6" fill="#00ffff"/>
<rect x="536" y="599" width="2" height="2" fill="#00ffff"/>
<rect x="536" y="601" width="2" height="2" fill="#00c800"/>
<rect x="536" y="603" width="2" height="2" fill="#00ffff"/>
<rect x="542" y="37" width="2" height="2" fill="#00c800"/>
<rect x="542" y="39" width="2" height="2" fill="#80ff00"/>
<rect x="542" y="41" width="2" height="2" fill="#80ff00"/>
<rect x="542" y="318" width="2" height="6" fill="#00ffff"/>
<rect x="542" y="599" width="2" height="2" fill="#00ffff"/>
<rect x="542" y="601" width="2" height="2" fill="#00c800"/>
<rect x="542" y="603" width="2" height="2" fill="#00c800"/>
<rect x="554" y="39" width="2" height="2" fill="#80ff00"/>
<rect x="554" y="41" width="2" height="2" fill="#80ff00"/>
<rect x="554" y="43" width="2" height="2" fill="#80ff00"/>
<rect x="554" y="320" width="2" height="6" fill="#00ffff"/>
<rect x="554" y="601" width="2" height="2" fill="#00c800"/>
<rect x="554" y="603" width="2" height="2" fill="#00c800"/>
<rect x="554" y="605" width="2" height="2" fill="#00ffff"/>
<rect x="562" y="37" width="2" height="2" fill="#00c800"/>
<rect x="562" y="39" width="2" height="2" fill="#80ff00"/>
<rect x="562" y="41" width="2" height="2" fill="#80ff00"/>
<rect x="562" y="318" width="2" height="6" fill="#00ffff"/>
<rect x="562" y="599" width="2" height="2" fill="#00ffff"/>
<rect x="562" y="601" width="2" height="2" fill="#00c800"/>
<rect x="562" y="603" width="2" height="2" fill="#00c800"/>
<rect x="566" y="37" width="2" height="2" fill="#00c800"/>
<rect x="566" y="39" width="2" height="2" fill="#00c800"/>
<rect x="566" y="41" width="2" height="2" fill="#00c800"/>
<rect x="566" y="318" width="2" height="6" fill="#00ffff"/>
<rect x="566" y="599" width="2" height="2" fill="#00ffff"/>
<rect x="566" y="601" width="2" height="2" fill="#00c800"/>
<rect x="566" y="603" width="2" height="2" fill="#00c800"/>
<rect x="580" y="37" width="2" height="2" fill="#00c800"/>
<rect x="580" y="39" width="2" height="2" fill="#80ff00"/>
<rect x="580" y="41" width="2" height="2" fill="#80ff00"/>
<rect x="580" y="318" width="2" height="6" fill="#00ffff"/>
<rect x="580" y="599" width="2" height="2" fill="#00ffff"/>
<rect x="580" y="601" width="2" height="2" fill="#00c800"/>
<rect x="580" y="603" width="2" height="2" fill="#00ffff"/>
<rect x="582" y="37" width="2" height="2" fill="#80ff00"/>
<rect x="582" y="39" width="2" height="2" fill="#80ff00"/>
<rect x="582" y="41" width="2" height="2" fill="#80ff00"/>
<rect x="582" y="318" width="2" height="6" fill="#00ffff"/>
<rect x="582" y="599" width="2" height="2" fill="#00ffff"/>
<rect x="582" y="601" width="2" height="2" fill="#00c800"/>
<rect x="582" y="603" width="2" height="2" fill="#00ffff"/>
<rect x="592" y="37" width="2" height="2" fill="#80ff00"/>
<rect x="592" y="39" width="2" height="2" fill="#80ff00"/>
<rect x="592" y="41" width="2" height="2" fill="#80ff00"/>
<rect x="592" y="318" width="2" height="6" fill="#00ffff"/>
<rect x="592" y="599" width="2" height="2" fill="#00ffff"/>
<rect x="592" y="601" width="2" height="2" fill="#00c800"/>
<rect x="592" y="603" width="2" height="2" fill="#00c800"/>
<rect x="614" y="37" width="2" height="2" fill="#80ff00"/>
<rect x="614" y="39" width="2" height="2" fill="#00c800"/>
<rect x="614" y="41" width="2" height="2" fill="#00c800"/>
<rect x="614" y="318" width="2" height="6" fill="#00ffff"/>
<rect x="614" y="599" width="2" height="2" fill="#00ffff"/>
<rect x="614" y="601" width="2" height="2" fill="#00c800"/>
<rect x="614" y="603" width="2" height="2" fill="#00ffff"/>
<rect x="630" y="39" width="2" height="2" fill="#80ff00"/>
<rect x="630" y="41" width="2" height="2" fill="#80ff00"/>
<rect x="630" y="43" width="2" height="2" fill="#80ff00"/>
<rect x="630" y="320" width="2" height="6" fill="#00ffff"/>
<rect x="630" y="601" width="2" height="2" fill="#00c800"/>
<rect x="630" y="603" width="2" height="2" fill="#00ffff"/>
<rect x="630" y="605" width="2" height="2" fill="#00c0ff"/>
<rect x="634" y="37" width="2" height="2" fill="#00c800"/>
<rect x="634" y="39" width="2" height="2" fill="#00c800"/>
<rect x="634" y="41" width="2" height="2" fill="#00c800"/>
<rect x="634" y="318" width="2" height="6" fill="#00ffff"/>
<rect x="634" y="599" width="2" height="2" fill="#00ffff"/>
<rect x="634" y="601" width="2" height="2" fill="#00c800"/>
<rect x="634" y="603" width="2" height="2" fill="#00ffff"/>
<rect x="658" y="37" width="2" height="2" fill="#80ff00"/>
<rect x="658" y="39" width="2" height="2" fill="#80ff00"/>
<rect x="658" y="41" width="2" height="2" fill="#80ff00"/>
<rect x="658" y="318" width="2" height="6" fill="#00ffff"/>
<rect x="658" y="599" width="2" height="2" fill="#00ffff"/>
<rect x="658" y="601" width="2" height="2" fill="#00c800"/>
<rect x="658" y="603" width="2" height="2" fill="#00c800"/>
<rect x="662" y="39" width="2" height="2" fill="#80ff00"/>
<rect x="662" y="41" width="2" height="2" fill="#80ff00"/>
<rect x="662" y="43" width="2" height="2" fill="#00c800"/>
<rect x="662" y="320" width="2" height="6" fill="#00ffff"/>
<rect x="662" y="601" width="2" height="2" fill="#00c800"/>
<rect x="662" y="603" width="2" height="2" fill="#00c800"/>
<rect x="662" y="605" width="2" height="2" fill="#00ffff"/>
<rect x="666" y="37" width="2" height="2" fill="#0000ff"/>
<rect x="666" y="39" width="2" height="2" fill="#80ff00"/>
<rect x="666" y="41" width="2" height="2" fill="#80ff00"/>
<rect x="666" y="318" width="2" height="6" fill="#00ffff"/>
<rect x="666" y="599" width="2" height="2" fill="#00ffff"/>
<rect x="666" y="601" width="2" height="2" fill="#00c800"/>
<rect x="666" y="603" width="2" height="2" fill="#00c800"/>
<rect x="680" y="37" width="2" height="2" fill="#00c800"/>
<rect x="680" y="39" width="2" height="2" fill="#00c800"/>
<rect x="680" y="41" width="2" height="2" fill="#00c800"/>
<rect x="680" y="318" width="2" height="6" fill="#00ffff"/>
<rect x="680" y="599" width="2" height="2" fill="#00ffff"/>
<rect x="680" y="601" width="2" height="2" fill="#00c800"/>
<rect x="680" y="603" width="2" height="2" fill="#00c800"/>
<rect x="688" y="39" width="2" height="2" fill="#80ff00"/>
<rect x="688" y="41" width="2" height="2" fill="#80ff00"/>
<rect x="688" y="43" width="2" height="2" fill="#80ff00"/>
<rect x="688" y="320" width="2" height="6" fill="#00ffff"/>
<rect x="688" y="601" width="2" height="2" fill="#00c800"/>
<rect x="688" y="603" width="2" height="2" fill="#00c800"/>
<rect x="688" y="605" width="2" height="2" fill="#00ffff"/>
<rect x="694" y="37" width="2" height="2" fill="#0000ff"/>
<rect x="694" y="39" width="2" height="2" fill="#00c800"/>
<rect x="694" y="41" width="2" height="2" fill="#00c800"/>
<rect x="694" y="318" width="2" height="6" fill="#00ffff"/>
<rect x="694" y="599" width="2" height="2" fill="#00ffff"/>
<rect x="694" y="601" width="2" height="2" fill="#00c800"/>
<rect x="694" y="603" width="2" height="2" fill="#00c800"/>
<rect x="698" y="39" width="2" height="2" fill="#80ff00"/>
<rect x="698" y="41" width="2" height="2" fill="#80ff00"/>
<rect x="698" y="320" width="2" height="4" fill="#00ffff"/>
<rect x="698" y="601" width="2" height="2" fill="#00c800"/>
<rect x="698" y="603" width="2" height="2" fill="#00ffff"/>
<rect x="710" y="39" width="2" height="2" fill="#80ff00"/>
<rect x="710" y="41" width="2" height="2" fill="#80ff00"/>
<rect x="710" y="43" width="2" height="2" fill="#80ff00"/>
<rect x="710" y="320" width="2" height="6" fill="#00ffff"/>
<rect x="710" y="601" width="2" height="2" fill="#00c800"/>
<rect x="710" y="603" width="2" height="2" fill="#00c800"/>
<rect x="710" y="605" width="2" height="2" fill="#00ffff"/>
<rect x="714" y="37" width="2" height="2" fill="#00c800"/>
<rect x="714" y="39" width="2" height="2" fill="#80ff00"/>
<rect x="714" y="41" width="2" height="2" fill="#80ff00"/>
<rect x="714" y="43" width="2" height="2" fill="#80ff00"/>
<rect x="714" y="318" width="2" height="8" fill="#00ffff"/>
<rect x="714" y="599" width="2" height="2" fill="#00ffff"/>
<rect x="714" y="601" width="2" height="2" fill="#00c800"/>
<rect x="714" y="603" width="2" height="2" fill="#00c800"/>
<rect x="714" y="605" width="2" height="2" fill="#00ffff"/>
<rect x="720" y="37" width="2" height="2" fill="#00c800"/>
<rect x="720" y="39" width="2" height="2" fill="#80ff00"/>
<rect x="720" y="41" width="2" height="2" fill="#80ff00"/>
<rect x="720" y="318" width="2" height="6" fill="#00ffff"/>
<rect x="720" y="599" width="2" height="2" fill="#00ffff"/>
<rect x="720" y="601" width="2" height="2" fill="#00c800"/>
<rect x="720" y="603" width="2" height="2" fill="#00ffff"/>
<rect x="722" y="37" width="2" height="2" fill="#80ff00"/>
<rect x="722" y="39" width="2" height="2" fill="#80ff00"/>
<rect x="722" y="41" width="2" height="2" fill="#80ff00"/>
<rect x="722" y="318" width="2" height="6" fill="#00ffff"/>
<rect x="722" y="599" width="2" height="2" fill="#00ffff"/>
<rect x="722" y="601" width="2" height="2" fill="#00c800"/>
<rect x="722" y="603" width="2" height="2" fill="#00c800"/>
<rect x="726" y="37" width="2" height="2" fill="#00c800"/>
<rect x="726" y="39" width="2" height="2" fill="#80ff00"/>
<rect x="726" y="41" width="2" height="2" fill="#80ff00"/>
<rect x="726" y="318" width="2" height="6" fill="#00ffff"/>
<rect x="726" y="599" width="2" height="2" fill="#00ffff"/>
<rect x="726" y="601" width="2" height="2" fill="#00c800"/>
<rect x="726" y="603" width="2" height="2" fill="#00c800"/>
<rect x="742" y="37" width="2" height="2" fill="#00c800"/>
<rect x="742" y="39" width="2" height="2" fill="#00c800"/>
<rect x="742" y="41" width="2" height="2" fill="#00c800"/>
<rect x="742" y="318" width="2" height="6" fill="#00ffff"/>
<rect x="742" y="599" width="2" height="2" fill="#00ffff"/>
<rect x="742" y="601" width="2" height="2" fill="#00c800"/>
<rect x="742" y="603" width="2" height="2" fill="#00ffff"/>
<rect x="746" y="37" width="2" height="2" fill="#80ff00"/>
<rect x="746" y="39" width="2" height="2" fill="#80ff00"/>
<rect x="746" y="41" width="2" height="2" fill="#80ff00"/>
<rect x="746" y="318" width="2" height="6" fill="#00ffff"/>
<rect x="746" y="599" width="2" height="2" fill="#00ffff"/>
<rect x="746" y="601" width="2" height="2" fill="#00c800"/>
<rect x="746" y="603" width="2" height="2" fill="#00c800"/>
<rect x="748" y="37" width="1" height="2" fill="#80ff00"/>
<rect x="748" y="39" width="1" height="2" fill="#80ff00"/>
<rect x="748" y="41" width="1" height="2" fill="#80ff00"/>
<rect x="748" y="318" width="1" height="6" fill="#00ffff"/>
<rect x="748" y="599" width="1" height="2" fill="#00ffff"/>
<rect x="748" y="601" width="1" height="2" fill="#00c800"/>
<rect x="748" y="603" width="1" height="2" fill="#00ffff"/>
<rect x="78" y="277" width="2" height="2" fill="#ff00ff"/>
<rect x="82" y="277" width="2" height="2" fill="#ff00ff"/>
<rect x="211" y="277" width="1" height="2" fill="#ff00ff"/>
<rect x="214" y="277" width="2" height="2" fill="#0000ff"/>
<rect x="446" y="277" width="2" height="2" fill="#ff00ff"/>
<rect x="450" y="275" width="2" height="4" fill="#ff00ff"/>
<rect x="580" y="277" width="2" height="2" fill="#ff00ff"/>
<rect x="582" y="277" width="2" height="2" fill="#0000ff"/>
<rect x="584" y="275" width="2" height="4" fill="#ff00ff"/>
<rect x="710" y="277" width="4" height="2" fill="#ff00ff"/>
<rect x="712" y="275" width="2" height="2" fill="#0000ff"/>
<rect x="718" y="275" width="2" height="4" fill="#0000ff"/>
<rect x="590" y="490" width="2" height="2" fill="#80ffff"/>
<rect x="596" y="490" width="2" height="2" fill="#80ffff"/>
<rect x="604" y="490" width="2" height="2" fill="#80ffff"/>
<rect x="590" y="492" width="2" height="2" fill="#80ffff"/>
<rect x="594" y="492" width="6" height="2" fill="#80ffff"/>
<rect x="604" y="492" width="4" height="2" fill="#80ffff"/>
<rect x="590" y="494" width="2" height="2" fill="#80ffff"/>
<rect x="594" y="494" width="6" height="2" fill="#80ffff"/>
<rect x="604" y="494" width="8" height="2" fill="#80ffff"/>
<rect x="624" y="494" width="2" height="2" fill="#80ffff"/>
<rect x="594" y="496" width="2" height="2" fill="#80ffff"/>
<rect x="598" y="496" width="2" height="2" fill="#80ffff"/>
<rect x="604" y="496" width="10" height="2" fill="#80ffff"/>
<rect x="620" y="496" width="8" height="2" fill="#80ffff"/>
<rect x="598" y="498" width="2" height="2" fill="#80ffff"/>
<rect x="604" y="498" width="10" height="2" fill="#80ffff"/>
<rect x="620" y="498" width="8" height="2" fill="#80ffff"/>
<rect x="608" y="500" width="4" height="2" fill="#80ffff"/>
<rect x="620" y="500" width="8" height="2" fill="#80ffff"/>
<rect x="622" y="502" width="6" height="2" fill="#80ffff"/>
<rect x="624" y="504" width="4" height="2" fill="#80ffff"/>
<rect x="636" y="482" width="2" height="2" fill="#80ffff"/>
<rect x="636" y="484" width="2" height="2" fill="#80ffff"/>
<rect x="636" y="486" width="6" height="2" fill="#80ffff"/>
<rect x="636" y="488" width="6" height="2" fill="#80ffff"/>
<rect x="644" y="488" width="2" height="2" fill="#80ffff"/>
<rect x="636" y="490" width="12" height="2" fill="#80ffff"/>
<rect x="636" y="492" width="16" height="2" fill="#80ffff"/>
<rect x="654" y="492" width="2" height="2" fill="#80ffff"/>
<rect x="628" y="494" width="2" height="2" fill="#80ffff"/>
<rect x="636" y="494" width="24" height="2" fill="#80ffff"/>
<rect x="666" y="494" width="2" height="2" fill="#80ffff"/>
<rect x="628" y="496" width="2" height="2" fill="#80ffff"/>
<rect x="634" y="496" width="34" height="2" fill="#80ffff"/>
<rect x="628" y="498" width="2" height="2" fill="#80ffff"/>
<rect x="632" y="498" width="38" height="2" fill="#80ffff"/>
<rect x="628" y="500" width="42" height="2" fill="#80ffff"/>
<rect x="628" y="502" width="34" height="2" fill="#80ffff"/>
<rect x="662" y="502" width="2" height="2" fill="#00ffff"/>
<rect x="664" y="502" width="6" height="2" fill="#80ffff"/>
<rect x="628" y="504" width="42" height="2" fill="#80ffff"/>
<rect x="632" y="506" width="14" height="2" fill="#80ffff"/>
<rect x="646" y="506" width="2" height="2" fill="#00ffff"/>
<rect x="648" y="506" width="2" height="2" fill="#80ffff"/>
<rect x="650" y="506" width="6" height="2" fill="#00ffff"/>
<rect x="656" y="506" width="14" height="2" fill="#80ffff"/>
<rect x="636" y="508" width="8" height="2" fill="#80ffff"/>
<rect x="644" y="508" width="12" height="2" fill="#00ffff"/>
<rect x="656" y="508" width="14" height="2" fill="#80ffff"/>
<rect x="640" y="510" width="8" height="2" fill="#80ffff"/>
<rect x="648" y="510" width="6" height="2" fill="#00ffff"/>
<rect x="654" y="510" width="16" height="2" fill="#80ffff"/>
<rect x="640" y="512" width="12" height="2" fill="#80ffff"/>
<rect x="652" y="512" width="2" height="2" fill="#00ffff"/>
<rect x="654" y="512" width="4" height="2" fill="#80ffff"/>
<rect x="658" y="512" width="2" height="2" fill="#00ffff"/>
<rect x="660" y="512" width="10" height="2" fill="#80ffff"/>
<rect x="648" y="514" width="10" height="2" fill="#80ffff"/>
<rect x="658" y="514" width="2" height="2" fill="#00ffff"/>
<rect x="660" y="514" width="10" height="2" fill="#80ffff"/>
<rect x="650" y="516" width="16" height="2" fill="#80ffff"/>
<rect x="666" y="516" width="2" height="2" fill="#00ffff"/>
<rect x="668" y="516" width="2" height="2" fill="#80ffff"/>
<rect x="654" y="518" width="16" height="2" fill="#80ffff"/>
<rect x="656" y="520" width="4" height="2" fill="#80ffff"/>
<rect x="662" y="520" width="8" height="2" fill="#80ffff"/>
<rect x="662" y="522" width="8" height="2" fill="#80ffff"/>
<rect x="630" y="536" width="2" height="2" fill="#80ffff"/>
<rect x="630" y="538" width="2" height="2" fill="#80ffff"/>
<rect x="630" y="540" width="2" height="2" fill="#80ffff"/>
<rect x="672" y="484" width="2" height="2" fill="#80ffff"/>
<rect x="672" y="486" width="2" height="2" fill="#80ffff"/>
<rect x="678" y="488" width="2" height="2" fill="#80ffff"/>
<rect x="690" y="488" width="2" height="2" fill="#80ffff"/>
<rect x="678" y="490" width="6" height="2" fill="#80ffff"/>
<rect x="690" y="490" width="2" height="2" fill="#80ffff"/>
<rect x="678" y="492" width="8" height="2" fill="#80ffff"/>
<rect x="692" y="492" width="2" height="2" fill="#80ffff"/>
<rect x="680" y="494" width="14" height="2" fill="#80ffff"/>
<rect x="696" y="494" width="2" height="2" fill="#80ffff"/>
<rect x="674" y="496" width="2" height="2" fill="#80ffff"/>
<rect x="686" y="496" width="24" height="2" fill="#80ffff"/>
<rect x="670" y="498" width="6" height="2" fill="#80ffff"/>
<rect x="682" y="498" width="2" height="2" fill="#80ffff"/>
<rect x="688" y="498" width="24" height="2" fill="#80ffff"/>
<rect x="670" y="500" width="42" height="2" fill="#80ffff"/>
<rect x="670" y="502" width="42" height="2" fill="#80ffff"/>
<rect x="670" y="504" width="42" height="2" fill="#80ffff"/>
<rect x="670" y="506" width="42" height="2" fill="#80ffff"/>
<rect x="670" y="508" width="42" height="2" fill="#80ffff"/>
<rect x="670" y="510" width="42" height="2" fill="#80ffff"/>
<rect x="670" y="512" width="42" height="2" fill="#80ffff"/>
<rect x="670" y="514" width="42" height="2" fill="#80ffff"/>
<rect x="670" y="516" width="42" height="2" fill="#80ffff"/>
<rect x="670" y="518" width="42" height="2" fill="#80ffff"/>
<rect x="670" y="520" width="42" height="2" fill="#80ffff"/>
<rect x="670" y="522" width="42" height="2" fill="#80ffff"/>
<rect x="672" y="524" width="2" height="2" fill="#80ffff"/>
<rect x="678" y="524" width="2" height="2" fill="#80ffff"/>
<rect x="682" y="524" width="30" height="2" fill="#80ffff"/>
<rect x="682" y="526" width="2" height="2" fill="#80ffff"/>
<rect x="686" y="526" width="4" height="2" fill="#80ffff"/>
<rect x="692" y="526" width="8" height="2" fill="#80ffff"/>
<rect x="702" y="526" width="4" height="2" fill="#80ffff"/>
<rect x="708" y="526" width="4" height="2" fill="#80ffff"/>
<rect x="686" y="528" width="2" height="2" fill="#80ffff"/>
<rect x="692" y="528" width="8" height="2" fill="#80ffff"/>
<rect x="702" y="528" width="4" height="2" fill="#80ffff"/>
<rect x="696" y="530" width="2" height="2" fill="#80ffff"/>
<rect x="740" y="496" width="4" height="2" fill="#80ffff"/>
<rect x="712" y="498" width="4" height="2" fill="#80ffff"/>
<rect x="734" y="498" width="2" height="2" fill="#80ffff"/>
<rect x="738" y="498" width="8" height="2" fill="#80ffff"/>
<rect x="712" y="500" width="10" height="2" fill="#80ffff"/>
<rect x="730" y="500" width="6" height="2" fill="#80ffff"/>
<rect x="738" y="500" width="10" height="2" fill="#80ffff"/>
<rect x="712" y="502" width="14" height="2" fill="#80ffff"/>
<rect x="728" y="502" width="20" height="2" fill="#80ffff"/>
<rect x="712" y="504" width="36" height="2" fill="#80ffff"/>
<rect x="712" y="506" width="38" height="2" fill="#80ffff"/>
<rect x="712" y="508" width="38" height="2" fill="#80ffff"/>
<rect x="712" y="510" width="38" height="2" fill="#80ffff"/>
<rect x="712" y="512" width="38" height="2" fill="#80ffff"/>
<rect x="712" y="514" width="38" height="2" fill="#80ffff"/>
<rect x="712" y="516" width="38" height="2" fill="#80ffff"/>
<rect x="712" y="518" width="38" height="2" fill="#80ffff"/>
<rect x="712" y="520" width="30" height="2" fill="#80ffff"/>
<rect x="744" y="520" width="2" height="2" fill="#80ffff"/>
<rect x="748" y="520" width="2" height="2" fill="#80ffff"/>
<rect x="712" y="522" width="14" height="2" fill="#80ffff"/>
<rect x="728" y="522" width="14" height="2" fill="#80ffff"/>
<rect x="744" y="522" width="2" height="2" fill="#80ffff"/>
<rect x="748" y="522" width="2" height="2" fill="#80ffff"/>
<rect x="712" y="524" width="20" height="2" fill="#80ffff"/>
<rect x="734" y="524" width="2" height="2" fill="#80ffff"/>
<rect x="744" y="524" width="2" height="2" fill="#80ffff"/>
<rect x="712" y="526" width="12" height="2" fill="#80ffff"/>
<rect x="726" y="526" width="8" height="2" fill="#80ffff"/>
<rect x="738" y="526" width="4" height="2" fill="#80ffff"/>
<rect x="714" y="528" width="6" height="2" fill="#80ffff"/>
<rect x="726" y="528" width="8" height="2" fill="#80ffff"/>
<rect x="738" y="528" width="6" height="2" fill="#80ffff"/>
<rect x="732" y="530" width="4" height="2" fill="#80ffff"/>
<rect x="738" y="530" width="8" height="2" fill="#80ffff"/>
<rect x="732" y="532" width="4" height="2" fill="#80ffff"/>
<rect x="738" y="532" width="8" height="2" fill="#80ffff"/>
<rect x="732" y="534" width="4" height="2" fill="#80ffff"/>
<rect x="742" y="534" width="4" height="2" fill="#80ffff"/>
<rect x="744" y="536" width="2" height="2" fill="#80ffff"/>
<rect x="82" y="558" width="2" height="2" fill="#80ffff"/>
<rect x="208" y="558" width="4" height="2" fill="#80ffff"/>
<rect x="214" y="558" width="2" height="2" fill="#80ffff"/>
<rect x="446" y="558" width="4" height="2" fill="#80ffff"/>
<rect x="580" y="556" width="2" height="4" fill="#80ffff"/>
<rect x="710" y="556" width="2" height="4" fill="#80ffff"/>
<rect x="712" y="558" width="2" height="2" fill="#80ffff"/>
<rect x="590" y="771" width="2" height="2" fill="#0000c8"/>
<rect x="596" y="771" width="2" height="2" fill="#ffffff"/>
<rect x="604" y="771" width="2" height="2" fill="#ffffff"/>
<rect x="590" y="773" width="2" height="2" fill="#0000c8"/>
<rect x="594" y="773" width="2" height="2" fill="#ffffff"/>
<rect x="596" y="773" width="2" height="2" fill="#0000c8"/>
<rect x="598" y="773" width="2" height="2" fill="#ffffff"/>
<rect x="604" y="773" width="4" height="2" fill="#ffffff"/>
<rect x="590" y="775" width="2" height="2" fill="#ffffff"/>
<rect x="594" y="775" width="2" height="2" fill="#0000c8"/>
<rect x="596" y="775" width="2" height="2" fill="#ffffff"/>
<rect x="598" y="775" width="2" height="2" fill="#0000c8"/>
<rect x="604" y="775" width="4" height="2" fill="#0000c8"/>
<rect x="608" y="775" width="4" height="2" fill="#ffffff"/>
<rect x="624" y="775" width="2" height="2" fill="#ffffff"/>
<rect x="594" y="777" width="2" height="2" fill="#0000c8"/>
<rect x="598" y="777" width="2" height="2" fill="#0000c8"/>
<rect x="604" y="777" width="8" height="2" fill="#0000c8"/>
<rect x="612" y="777" width="2" height="2" fill="#ffffff"/>
<rect x="620" y="777" width="4" height="2" fill="#ffffff"/>
<rect x="624" y="777" width="2" height="2" fill="#0000c8"/>
<rect x="626" y="777" width="2" height="2" fill="#ffffff"/>
<rect x="598" y="779" width="2" height="2" fill="#ffffff"/>
<rect x="604" y="779" width="2" height="2" fill="#ffffff"/>
<rect x="606" y="779" width="6" height="2" fill="#0000c8"/>
<rect x="612" y="779" width="2" height="2" fill="#ffffff"/>
<rect x="620" y="779" width="8" height="2" fill="#0000c8"/>
<rect x="608" y="781" width="4" height="2" fill="#0000c8"/>
<rect x="620" y="781" width="2" height="2" fill="#ffffff"/>
<rect x="622" y="781" width="6" height="2" fill="#0000c8"/>
<rect x="622" y="783" width="2" height="2" fill="#ffffff"/>
<rect x="624" y="783" width="4" height="2" fill="#0000c8"/>
<rect x="624" y="785" width="4" height="2" fill="#0000c8"/>
<rect x="636" y="763" width="2" height="2" fill="#ffffff"/>
<rect x="636" y="765" width="2" height="2" fill="#0000c8"/>
<rect x="636" y="767" width="2" height="2" fill="#ffffff"/>
<rect x="638" y="767" width="2" height="2" fill="#0000c8"/>
<rect x="640" y="767" width="2" height="2" fill="#ffffff"/>
<rect x="636" y="769" width="2" height="2" fill="#ffffff"/>
<rect x="638" y="769" width="4" height="2" fill="#0000c8"/>
<rect x="644" y="769" width="2" height="2" fill="#ffffff"/>
<rect x="636" y="771" width="2" height="2" fill="#ffffff"/>
<rect x="638" y="771" width="10" height="2" fill="#0000c8"/>
<rect x="636" y="773" width="2" height="2" fill="#ffffff"/>
<rect x="638" y="773" width="4" height="2" fill="#0000c8"/>
<rect x="642" y="773" width="6" height="2" fill="#00c0ff"/>
<rect x="648" y="773" width="4" height="2" fill="#0000c8"/>
<rect x="654" y="773" width="2" height="2" fill="#ffffff"/>
<rect x="628" y="775" width="2" height="2" fill="#ffffff"/>
<rect x="636" y="775" width="10" height="2" fill="#0000c8"/>
<rect x="646" y="775" width="4" height="2" fill="#00c0ff"/>
<rect x="650" y="775" width="8" height="2" fill="#0000c8"/>
<rect x="658" y="775" width="2" height="2" fill="#ffffff"/>
<rect x="666" y="775" width="2" height="2" fill="#ffffff"/>
<rect x="628" y="777" width="2" height="2" fill="#ffffff"/>
<rect x="634" y="777" width="2" height="2" fill="#ffffff"/>
<rect x="636" y="777" width="2" height="2" fill="#0000c8"/>
<rect x="638" y="777" width="2" height="2" fill="#ffffff"/>
<rect x="640" y="777" width="2" height="2" fill="#0000c8"/>
<rect x="642" y="777" width="2" height="2" fill="#ffffff"/>
<rect x="644" y="777" width="2" height="2" fill="#0000c8"/>
<rect x="646" y="777" width="10" height="2" fill="#00c0ff"/>
<rect x="656" y="777" width="8" height="2" fill="#0000c8"/>
<rect x="664" y="777" width="2" height="2" fill="#ffffff"/>
<rect x="666" y="777" width="2" height="2" fill="#0000c8"/>
<rect x="628" y="779" width="2" height="2" fill="#0000c8"/>
<rect x="632" y="779" width="2" height="2" fill="#ffffff"/>
<rect x="634" y="779" width="4" height="2" fill="#0000c8"/>
<rect x="638" y="779" width="2" height="2" fill="#ffffff"/>
<rect x="640" y="779" width="2" height="2" fill="#0000c8"/>
<rect x="642" y="779" width="2" height="2" fill="#ffffff"/>
<rect x="644" y="779" width="6" height="2" fill="#0000c8"/>
<rect x="650" y="779" width="6" height="2" fill="#00c0ff"/>
<rect x="656" y="779" width="14" height="2" fill="#0000c8"/>
<rect x="628" y="781" width="2" height="2" fill="#00c0ff"/>
<rect x="630" y="781" width="20" height="2" fill="#0000c8"/>
<rect x="650" y="781" width="2" height="2" fill="#00c0ff"/>
<rect x="652" y="781" width="8" height="2" fill="#0000c8"/>
<rect x="660" y="781" width="4" height="2" fill="#00c0ff"/>
<rect x="664" y="781" width="6" height="2" fill="#0000c8"/>
<rect x="628" y="783" width="2" height="2" fill="#00c0ff"/>
<rect x="630" y="783" width="20" height="2" fill="#0000c8"/>
<rect x="650" y="783" width="2" height="2" fill="#00c0ff"/>
<rect x="652" y="783" width="10" height="2" fill="#0000c8"/>
<rect x="662" y="783" width="4" height="2" fill="#00c0ff"/>
<rect x="666" y="783" width="2" height="2" fill="#0000c8"/>
<rect x="668" y="783" width="2" height="2" fill="#00c0ff"/>
<rect x="628" y="785" width="10" height="2" fill="#0000c8"/>
<rect x="638" y="785" width="6" height="2" fill="#00c0ff"/>
<rect x="644" y="785" width="2" height="2" fill="#0000c8"/>
<rect x="646" y="785" width="10" height="2" fill="#00c0ff"/>
<rect x="656" y="785" width="8" height="2" fill="#0000c8"/>
<rect x="664" y="785" width="2" height="2" fill="#00c0ff"/>
<rect x="666" y="785" width="2" height="2" fill="#0000c8"/>
<rect x="668" y="785" width="2" height="2" fill="#00c0ff"/>
<rect x="632" y="787" width="2" height="2" fill="#0000c8"/>
<rect x="634" y="787" width="2" height="2" fill="#ffffff"/>
<rect x="636" y="787" width="2" height="2" fill="#0000c8"/>
<rect x="638" y="787" width="20" height="2" fill="#00c0ff"/>
<rect x="658" y="787" width="6" height="2" fill="#0000c8"/>
<rect x="664" y="787" width="2" height="2" fill="#00c0ff"/>
<rect x="666" y="787" width="2" height="2" fill="#0000c8"/>
<rect x="668" y="787" width="2" height="2" fill="#00c0ff"/>
<rect x="636" y="789" width="2" height="2" fill="#ffffff"/>
<rect x="638" y="789" width="2" height="2" fill="#0000c8"/>
<rect x="640" y="789" width="24" height="2" fill="#00c0ff"/>
<rect x="664" y="789" width="4" height="2" fill="#0000c8"/>
<rect x="668" y="789" width="2" height="2" fill="#00c0ff"/>
<rect x="640" y="791" width="2" height="2" fill="#0000c8"/>
<rect x="642" y="791" width="26" height="2" fill="#00c0ff"/>
<rect x="668" y="791" width="2" height="2" fill="#0000c8"/>
<rect x="640" y="793" width="2" height="2" fill="#0000c8"/>
<rect x="642" y="793" width="2" height="2" fill="#ffffff"/>
<rect x="644" y="793" width="4" height="2" fill="#0000c8"/>
<rect x="648" y="793" width="14" height="2" fill="#00c0ff"/>
<rect x="662" y="793" width="2" height="2" fill="#0000c8"/>
<rect x="664" y="793" width="6" height="2" fill="#00c0ff"/>
<rect x="648" y="795" width="4" height="2" fill="#0000c8"/>
<rect x="652" y="795" width="18" height="2" fill="#00c0ff"/>
<rect x="650" y="797" width="8" height="2" fill="#0000c8"/>
<rect x="658" y="797" width="12" height="2" fill="#00c0ff"/>
<rect x="654" y="799" width="2" height="2" fill="#ffffff"/>
<rect x="656" y="799" width="6" height="2" fill="#0000c8"/>
<rect x="662" y="799" width="8" height="2" fill="#00c0ff"/>
<rect x="656" y="801" width="4" height="2" fill="#ffffff"/>
<rect x="662" y="801" width="8" height="2" fill="#0000c8"/>
<rect x="662" y="803" width="6" height="2" fill="#ffffff"/>
<rect x="668" y="803" width="2" height="2" fill="#0000c8"/>
<rect x="630" y="815" width="2" height="2" fill="#ffffff"/>
<rect x="630" y="817" width="2" height="2" fill="#0000c8"/>
<rect x="630" y="819" width="2" height="2" fill="#0000c8"/>
<rect x="630" y="821" width="2" height="2" fill="#ffffff"/>
<rect x="672" y="765" width="2" height="2" fill="#ffffff"/>
<rect x="672" y="767" width="2" height="2" fill="#ffffff"/>
<rect x="678" y="769" width="2" height="2" fill="#ffffff"/>
<rect x="690" y="769" width="2" height="2" fill="#0000c8"/>
<rect x="678" y="771" width="2" height="2" fill="#ffffff"/>
<rect x="680" y="771" width="4" height="2" fill="#0000c8"/>
<rect x="690" y="771" width="2" height="2" fill="#ffffff"/>
<rect x="678" y="773" width="2" height="2" fill="#ffffff"/>
<rect x="680" y="773" width="4" height="2" fill="#0000c8"/>
<rect x="684" y="773" width="2" height="2" fill="#ffffff"/>
<rect x="692" y="773" width="2" height="2" fill="#ffffff"/>
<rect x="680" y="775" width="2" height="2" fill="#ffffff"/>
<rect x="682" y="775" width="2" height="2" fill="#0000c8"/>
<rect x="684" y="775" width="2" height="2" fill="#ffffff"/>
<rect x="686" y="775" width="4" height="2" fill="#0000c8"/>
<rect x="690" y="775" width="4" height="2" fill="#ffffff"/>
<rect x="696" y="775" width="2" height="2" fill="#ffffff"/>
<rect x="674" y="777" width="2" height="2" fill="#ffffff"/>
<rect x="686" y="777" width="14" height="2" fill="#0000c8"/>
<rect x="700" y="777" width="2" height="2" fill="#ffffff"/>
<rect x="702" y="777" width="2" height="2" fill="#0000c8"/>
<rect x="704" y="777" width="4" height="2" fill="#ffffff"/>
<rect x="708" y="777" width="2" height="2" fill="#0000c8"/>
<rect x="670" y="779" width="4" height="2" fill="#ffffff"/>
<rect x="674" y="779" width="2" height="2" fill="#0000c8"/>
<rect x="682" y="779" width="2" height="2" fill="#ffffff"/>
<rect x="688" y="779" width="20" height="2" fill="#0000c8"/>
<rect x="708" y="779" width="2" height="2" fill="#00c0ff"/>
<rect x="710" y="779" width="2" height="2" fill="#0000c8"/>
<rect x="670" y="781" width="6" height="2" fill="#0000c8"/>
<rect x="676" y="781" width="4" height="2" fill="#ffffff"/>
<rect x="680" y="781" width="6" height="2" fill="#0000c8"/>
<rect x="686" y="781" width="6" height="2" fill="#ffffff"/>
<rect x="692" y="781" width="4" height="2" fill="#0000c8"/>
<rect x="696" y="781" width="2" height="2" fill="#00c0ff"/>
<rect x="698" y="781" width="2" height="2" fill="#0000c8"/>
<rect x="700" y="781" width="4" height="2" fill="#00c0ff"/>
<rect x="704" y="781" width="8" height="2" fill="#0000c8"/>
<rect x="670" y="783" width="2" height="2" fill="#00c0ff"/>
<rect x="672" y="783" width="24" height="2" fill="#0000c8"/>
<rect x="696" y="783" width="2" height="2" fill="#00c0ff"/>
<rect x="698" y="783" width="2" height="2" fill="#0000c8"/>
<rect x="700" y="783" width="12" height="2" fill="#00c0ff"/>
<rect x="670" y="785" width="4" height="2" fill="#00c0ff"/>
<rect x="674" y="785" width="22" height="2" fill="#0000c8"/>
<rect x="696" y="785" width="2" height="2" fill="#00c0ff"/>
<rect x="698" y="785" width="2" height="2" fill="#0000c8"/>
<rect x="700" y="785" width="12" height="2" fill="#00c0ff"/>
<rect x="670" y="787" width="6" height="2" fill="#00c0ff"/>
<rect x="676" y="787" width="6" height="2" fill="#0000c8"/>
<rect x="682" y="787" width="4" height="2" fill="#00c0ff"/>
<rect x="686" y="787" width="4" height="2" fill="#0000c8"/>
<rect x="690" y="787" width="2" height="2" fill="#00c0ff"/>
<rect x="692" y="787" width="4" height="2" fill="#0000c8"/>
<rect x="696" y="787" width="2" height="2" fill="#00c0ff"/>
<rect x="698" y="787" width="2" height="2" fill="#0000c8"/>
<rect x="700" y="787" width="10" height="2" fill="#00c0ff"/>
<rect x="710" y="787" width="2" height="2" fill="#0000c8"/>
<rect x="670" y="789" width="2" height="2" fill="#00c0ff"/>
<rect x="672" y="789" width="10" height="2" fill="#0000c8"/>
<rect x="682" y="789" width="4" height="2" fill="#00c0ff"/>
<rect x="686" y="789" width="2" height="2" fill="#0000c8"/>
<rect x="688" y="789" width="4" height="2" fill="#00c0ff"/>
<rect x="692" y="789" width="4" height="2" fill="#0000c8"/>
<rect x="696" y="789" width="2" height="2" fill="#00c0ff"/>
<rect x="698" y="789" width="14" height="2" fill="#0000c8"/>
<rect x="670" y="791" width="12" height="2" fill="#0000c8"/>
<rect x="682" y="791" width="4" height="2" fill="#00c0ff"/>
<rect x="686" y="791" width="2" height="2" fill="#0000c8"/>
<rect x="688" y="791" width="4" height="2" fill="#00c0ff"/>
<rect x="692" y="791" width="10" height="2" fill="#0000c8"/>
<rect x="702" y="791" width="6" height="2" fill="#ffffff"/>
<rect x="708" y="791" width="4" height="2" fill="#0000c8"/>
<rect x="670" y="793" width="14" height="2" fill="#0000c8"/>
<rect x="684" y="793" width="2" height="2" fill="#00c0ff"/>
<rect x="686" y="793" width="2" height="2" fill="#0000c8"/>
<rect x="688" y="793" width="4" height="2" fill="#00c0ff"/>
<rect x="692" y="793" width="10" height="2" fill="#0000c8"/>
<rect x="702" y="793" width="6" height="2" fill="#ffffff"/>
<rect x="708" y="793" width="2" height="2" fill="#0000c8"/>
<rect x="710" y="793" width="2" height="2" fill="#ffffff"/>
<rect x="670" y="795" width="6" height="2" fill="#00c0ff"/>
<rect x="676" y="795" width="2" height="2" fill="#0000c8"/>
<rect x="678" y="795" width="2" height="2" fill="#00c0ff"/>
<rect x="680" y="795" width="14" height="2" fill="#0000c8"/>
<rect x="694" y="795" width="2" height="2" fill="#00c0ff"/>
<rect x="696" y="795" width="6" height="2" fill="#0000c8"/>
<rect x="702" y="795" width="10" height="2" fill="#ffffff"/>
<rect x="670" y="797" width="6" height="2" fill="#00c0ff"/>
<rect x="676" y="797" width="2" height="2" fill="#0000c8"/>
<rect x="678" y="797" width="2" height="2" fill="#00c0ff"/>
<rect x="680" y="797" width="32" height="2" fill="#0000c8"/>
<rect x="670" y="799" width="6" height="2" fill="#00c0ff"/>
<rect x="676" y="799" width="36" height="2" fill="#0000c8"/>
<rect x="670" y="801" width="36" height="2" fill="#0000c8"/>
<rect x="706" y="801" width="6" height="2" fill="#ffffff"/>
<rect x="670" y="803" width="6" height="2" fill="#0000c8"/>
<rect x="676" y="803" width="2" height="2" fill="#ffffff"/>
<rect x="678" y="803" width="18" height="2" fill="#0000c8"/>
<rect x="696" y="803" width="2" height="2" fill="#ffffff"/>
<rect x="698" y="803" width="2" height="2" fill="#0000c8"/>
<rect x="700" y="803" width="4" height="2" fill="#ffffff"/>
<rect x="704" y="803" width="2" height="2" fill="#0000c8"/>
<rect x="706" y="803" width="6" height="2" fill="#ffffff"/>
<rect x="672" y="805" width="2" height="2" fill="#ffffff"/>
<rect x="678" y="805" width="2" height="2" fill="#ffffff"/>
<rect x="682" y="805" width="2" height="2" fill="#0000c8"/>
<rect x="684" y="805" width="8" height="2" fill="#ffffff"/>
<rect x="692" y="805" width="2" height="2" fill="#0000c8"/>
<rect x="694" y="805" width="18" height="2" fill="#ffffff"/>
<rect x="682" y="807" width="2" height="2" fill="#ffffff"/>
<rect x="686" y="807" width="4" height="2" fill="#ffffff"/>
<rect x="692" y="807" width="8" height="2" fill="#ffffff"/>
<rect x="702" y="807" width="4" height="2" fill="#ffffff"/>
<rect x="708" y="807" width="4" height="2" fill="#ffffff"/>
<rect x="686" y="809" width="2" height="2" fill="#ffffff"/>
<rect x="692" y="809" width="8" height="2" fill="#ffffff"/>
<rect x="702" y="809" width="4" height="2" fill="#ffffff"/>
<rect x="696" y="811" width="2" height="2" fill="#ffffff"/>
<rect x="692" y="813" width="2" height="2" fill="#ffffff"/>
<rect x="740" y="777" width="2" height="2" fill="#ffffff"/>
<rect x="742" y="777" width="2" height="2" fill="#0000c8"/>
<rect x="712" y="779" width="2" height="2" fill="#ffffff"/>
<rect x="714" y="779" width="2" height="2" fill="#0000c8"/>
<rect x="734" y="779" width="2" height="2" fill="#ffffff"/>
<rect x="738" y="779" width="2" height="2" fill="#ffffff"/>
<rect x="740" y="779" width="6" height="2" fill="#0000c8"/>
<rect x="712" y="781" width="8" height="2" fill="#0000c8"/>
<rect x="720" y="781" width="2" height="2" fill="#ffffff"/>
<rect x="730" y="781" width="6" height="2" fill="#ffffff"/>
<rect x="738" y="781" width="2" height="2" fill="#ffffff"/>
<rect x="740" y="781" width="8" height="2" fill="#0000c8"/>
<rect x="712" y="783" width="10" height="2" fill="#0000c8"/>
<rect x="722" y="783" width="4" height="2" fill="#ffffff"/>
<rect x="728" y="783" width="4" height="2" fill="#ffffff"/>
<rect x="732" y="783" width="2" height="2" fill="#0000c8"/>
<rect x="734" y="783" width="6" height="2" fill="#ffffff"/>
<rect x="740" y="783" width="8" height="2" fill="#0000c8"/>
<rect x="712" y="785" width="26" height="2" fill="#0000c8"/>
<rect x="738" y="785" width="2" height="2" fill="#ffffff"/>
<rect x="740" y="785" width="8" height="2" fill="#0000c8"/>
<rect x="712" y="787" width="28" height="2" fill="#0000c8"/>
<rect x="740" y="787" width="2" height="2" fill="#ffffff"/>
<rect x="742" y="787" width="4" height="2" fill="#0000c8"/>
<rect x="746" y="787" width="2" height="2" fill="#ffffff"/>
<rect x="748" y="787" width="2" height="2" fill="#0000c8"/>
<rect x="712" y="789" width="2" height="2" fill="#0000c8"/>
<rect x="714" y="789" width="2" height="2" fill="#00c0ff"/>
<rect x="716" y="789" width="24" height="2" fill="#0000c8"/>
<rect x="740" y="789" width="2" height="2" fill="#ffffff"/>
<rect x="742" y="789" width="4" height="2" fill="#0000c8"/>
<rect x="746" y="789" width="2" height="2" fill="#ffffff"/>
<rect x="748" y="789" width="2" height="2" fill="#0000c8"/>
<rect x="712" y="791" width="34" height="2" fill="#0000c8"/>
<rect x="746" y="791" width="2" height="2" fill="#ffffff"/>
<rect x="748" y="791" width="2" height="2" fill="#0000c8"/>
<rect x="712" y="793" width="2" height="2" fill="#ffffff"/>
<rect x="714" y="793" width="32" height="2" fill="#0000c8"/>
<rect x="746" y="793" width="2" height="2" fill="#ffffff"/>
<rect x="748" y="793" width="2" height="2" fill="#0000c8"/>
<rect x="712" y="795" width="2" height="2" fill="#ffffff"/>
<rect x="714" y="795" width="36" height="2" fill="#0000c8"/>
<rect x="712" y="797" width="28" height="2" fill="#0000c8"/>
<rect x="740" y="797" width="2" height="2" fill="#ffffff"/>
<rect x="742" y="797" width="8" height="2" fill="#0000c8"/>
<rect x="712" y="799" width="12" height="2" fill="#0000c8"/>
<rect x="724" y="799" width="2" height="2" fill="#ffffff"/>
<rect x="726" y="799" width="10" height="2" fill="#0000c8"/>
<rect x="736" y="799" width="2" height="2" fill="#ffffff"/>
<rect x="738" y="799" width="4" height="2" fill="#0000c8"/>
<rect x="742" y="799" width="2" height="2" fill="#ffffff"/>
<rect x="744" y="799" width="2" height="2" fill="#0000c8"/>
<rect x="746" y="799" width="2" height="2" fill="#ffffff"/>
<rect x="748" y="799" width="2" height="2" fill="#0000c8"/>
<rect x="712" y="801" width="10" height="2" fill="#ffffff"/>
<rect x="722" y="801" width="2" height="2" fill="#0000c8"/>
<rect x="724" y="801" width="4" height="2" fill="#ffffff"/>
<rect x="728" y="801" width="6" height="2" fill="#0000c8"/>
<rect x="734" y="801" width="8" height="2" fill="#ffffff"/>
<rect x="744" y="801" width="2" height="2" fill="#ffffff"/>
<rect x="748" y="801" width="2" height="2" fill="#0000c8"/>
<rect x="712" y="803" width="14" height="2" fill="#ffffff"/>
<rect x="728" y="803" width="14" height="2" fill="#ffffff"/>
<rect x="744" y="803" width="2" height="2" fill="#ffffff"/>
<rect x="748" y="803" width="2" height="2" fill="#ffffff"/>
<rect x="712" y="805" width="20" height="2" fill="#ffffff"/>
<rect x="734" y="805" width="2" height="2" fill="#ffffff"/>
<rect x="746" y="805" width="4" height="2" fill="#ffffff"/>
<rect x="712" y="807" width="12" height="2" fill="#ffffff"/>
<rect x="726" y="807" width="6" height="2" fill="#ffffff"/>
<rect x="748" y="807" width="2" height="2" fill="#ffffff"/>
<rect x="714" y="809" width="6" height="2" fill="#ffffff"/>
<rect x="726" y="809" width="6" height="2" fill="#ffffff"/>
<rect x="738" y="809" width="4" height="2" fill="#ffffff"/>
<rect x="732" y="811" width="2" height="2" fill="#ffffff"/>
<rect x="738" y="811" width="6" height="2" fill="#ffffff"/>
<rect x="732" y="813" width="4" height="2" fill="#ffffff"/>
<rect x="738" y="813" width="8" height="2" fill="#ffffff"/>
<rect x="732" y="815" width="4" height="2" fill="#ffffff"/>
<rect x="740" y="815" width="6" height="2" fill="#ffffff"/>
<rect x="734" y="817" width="2" height="2" fill="#ffffff"/>
<rect x="742" y="817" width="4" height="2" fill="#ffffff"/>
<rect x="72" y="837" width="14" height="4" fill="#ffffff"/>
<rect x="208" y="837" width="14" height="4" fill="#ffffff"/>
<rect x="270" y="837" width="14" height="4" fill="#ffffff"/>
<rect x="300" y="837" width="12" height="4" fill="#ffffff"/>
<rect x="444" y="837" width="14" height="4" fill="#ffffff"/>
<rect x="578" y="837" width="10" height="4" fill="#ffffff"/>
<rect x="590" y="837" width="2" height="4" fill="#ffffff"/>
<rect x="710" y="837" width="14" height="4" fill="#ffffff"/>
<rect x="30" y="25" width="720" height="1" fill="#000"/>
<rect x="30" y="280" width="720" height="1" fill="#000"/>
<rect x="30" y="25" width="1" height="256" fill="#000"/>
<rect x="749" y="25" width="1" height="256" fill="#000"/>
<rect x="30" y="40" width="719" height="1" fill="#000"/>
<rect x="30" y="100" width="719" height="1" fill="#000"/>
<rect x="30" y="160" width="719" height="1" fill="#000"/>
<rect x="30" y="220" width="719" height="1" fill="#000"/>
<rect x="210" y="25" width="1" height="255" fill="#000"/>
<rect x="390" y="25" width="1" height="255" fill="#000"/>
<rect x="570" y="25" width="1" height="255" fill="#000"/>
<rect x="30" y="306" width="720" height="1" fill="#000"/>
<rect x="30" y="561" width="720" height="1" fill="#000"/>
<rect x="30" y="306" width="1" height="256" fill="#000"/>
<rect x="749" y="306" width="1" height="256" fill="#000"/>
<rect x="30" y="321" width="719" height="1" fill="#000"/>
<rect x="30" y="381" width="719" height="1" fill="#000"/>
<rect x="30" y="441" width="719" height="1" fill="#000"/>
<rect x="30" y="501" width="719" height="1" fill="#000"/>
<rect x="210" y="306" width="1" height="255" fill="#000"/>
<rect x="390" y="306" width="1" height="255" fill="#000"/>
<rect x="570" y="306" width="1" height="255" fill="#000"/>
<rect x="30" y="587" width="720" height="1" fill="#000"/>
<rect x="30" y="842" width="720" height="1" fill="#000"/>
<rect x="30" y="587" width="1" height="256" fill="#000"/>
<rect x="749" y="587" width="1" height="256" fill="#000"/>
<rect x="30" y="602" width="719" height="1" fill="#000"/>
<rect x="30" y="662" width="719" height="1" fill="#000"/>
<rect x="30" y="722" width="719" height="1" fill="#000"/>
<rect x="30" y="782" width="719" height="1" fill="#000"/>
<rect x="210" y="587" width="1" height="255" fill="#000"/>
<rect x="390" y="587" width="1" height="255" fill="#000"/>
<rect x="570" y="587" width="1" height="255" fill="#000"/>
<rect x="784" y="78" width="31" height="13" fill="#ff00ff"/>
<rect x="784" y="91" width="31" height="14" fill="#ff0000"/>
<rect x="784" y="105" width="31" height="13" fill="#ff8000"/>
<rect x="784" y="118" width="31" height="14" fill="#ffff00"/>
<rect x="784" y="132" width="31" height="14" fill="#80ff00"/>
<rect x="784" y="146" width="31" height="13" fill="#00c800"/>
<rect x="784" y="159" width="31" height="14" fill="#00ffff"/>
<rect x="784" y="173" width="31" height="14" fill="#0080ff"/>
<rect x="784" y="187" width="31" height="13" fill="#0000ff"/>
<rect x="784" y="214" width="31" height="14" fill="#dcdcdc"/>
<rect x="784" y="359" width="31" height="9" fill="#000000"/>
<rect x="784" y="368" width="31" height="9" fill="#500050"/>
<rect x="784" y="377" width="31" height="10" fill="#a000a0"/>
<rect x="784" y="387" width="31" height="9" fill="#ff00ff"/>
<rect x="784" y="396" width="31" height="9" fill="#ff0080"/>
<rect x="784" y="405" width="31" height="10" fill="#ff0000"/>
<rect x="784" y="415" width="31" height="9" fill="#ff8000"/>
<rect x="784" y="424" width="31" height="10" fill="#ffff00"/>
<rect x="784" y="434" width="31" height="9" fill="#80ff40"/>
<rect x="784" y="443" width="31" height="9" fill="#00c800"/>
<rect x="784" y="452" width="31" height="10" fill="#0000ff"/>
<rect x="784" y="462" width="31" height="9" fill="#0080ff"/>
<rect x="784" y="471" width="31" height="9" fill="#00ffff"/>
<rect x="784" y="480" width="31" height="10" fill="#80ffff"/>
<rect x="784" y="499" width="31" height="10" fill="#dcdcdc"/>
<rect x="784" y="640" width="31" height="12" fill="#a040a0"/>
<rect x="784" y="652" width="31" height="13" fill="#e000e0"/>
<rect x="784" y="665" width="31" height="12" fill="#a000a0"/>
<rect x="784" y="677" width="31" height="13" fill="#ff0000"/>
<rect x="784" y="690" width="31" height="12" fill="#ff8000"/>
<rect x="784" y="702" width="31" height="13" fill="#ffff00"/>
<rect x="784" y="715" width="31" height="12" fill="#00c800"/>
<rect x="784" y="727" width="31" height="13" fill="#00ffff"/>
<rect x="784" y="740" width="31" height="12" fill="#00c0ff"/>
<rect x="784" y="752" width="31" height="13" fill="#0000c8"/>
<rect x="784" y="777" width="31" height="13" fill="#dcdcdc"/>
<rect x="292" y="13" width="10" height="2" fill="#000"/>
<rect x="332" y="13" width="10" height="2" fill="#000"/>
<rect x="444" y="13" width="10" height="2" fill="#000"/>
<rect x="1" y="95" width="24" height="1" fill="#000"/>
<rect x="1" y="370" width="24" height="1" fill="#000"/>
<rect x="1" y="665" width="24" height="1" fill="#000"/>
<text transform="translate(240.897,20.746) scale(0.22066,0.25352)" font-family="Liberation Sans" font-size="100" xml:space="preserve">2026</text>
<text transform="translate(305.176,20.746) scale(0.20588,0.25352)" font-family="Liberation Sans" font-size="100" xml:space="preserve">01</text>
<text transform="translate(346.303,20.746) scale(0.21212,0.25352)" font-family="Liberation Sans" font-size="100" xml:space="preserve">18</text>
<text transform="translate(387.252,20.746) scale(0.21849,0.25352)" font-family="Liberation Sans" font-size="100" xml:space="preserve">19:00</text>
<text transform="translate(456.900,20.746) scale(0.21992,0.25352)" font-family="Liberation Sans" font-size="100" xml:space="preserve">20:00</text>
<text transform="translate(518.552,20.463) scale(0.22396,0.26866)" font-family="Liberation Serif" font-size="100" xml:space="preserve">UTC</text>
<text transform="translate(17.126,293.873) scale(0.10924,0.12676)" font-family="Liberation Sans" font-size="100" xml:space="preserve">19:00</text>
<text transform="translate(197.126,293.873) scale(0.10924,0.12676)" font-family="Liberation Sans" font-size="100" xml:space="preserve">19:15</text>
<text transform="translate(377.126,293.873) scale(0.10924,0.12676)" font-family="Liberation Sans" font-size="100" xml:space="preserve">19:30</text>
<text transform="translate(557.126,293.873) scale(0.10924,0.12676)" font-family="Liberation Sans" font-size="100" xml:space="preserve">19:45</text>
<text transform="translate(737.461,293.873) scale(0.10788,0.12676)" font-family="Liberation Sans" font-size="100" xml:space="preserve">20:00</text>
<text transform="translate(753.388,46.871) scale(0.12245,0.12857)" font-family="Liberation Serif" font-size="100" xml:space="preserve">3 km</text>
<text transform="translate(753.513,126.000) scale(0.12183,0.13043)" font-family="Liberation Serif" font-size="100" xml:space="preserve">2 km</text>
<text transform="translate(752.875,207.000) scale(0.12500,0.13043)" font-family="Liberation Serif" font-size="100" xml:space="preserve">1 km</text>
<text transform="translate(753.513,284.746) scale(0.12183,0.12676)" font-family="Liberation Serif" font-size="100" xml:space="preserve">0 km</text>
<text transform="translate(17.126,573.873) scale(0.10924,0.12676)" font-family="Liberation Sans" font-size="100" xml:space="preserve">19:00</text>
<text transform="translate(197.126,573.873) scale(0.10924,0.12676)" font-family="Liberation Sans" font-size="100" xml:space="preserve">19:15</text>
<text transform="translate(377.126,573.873) scale(0.10924,0.12676)" font-family="Liberation Sans" font-size="100" xml:space="preserve">19:30</text>
<text transform="translate(557.126,573.873) scale(0.10924,0.12676)" font-family="Liberation Sans" font-size="100" xml:space="preserve">19:45</text>
<text transform="translate(737.461,573.873) scale(0.10788,0.12676)" font-family="Liberation Sans" font-size="100" xml:space="preserve">20:00</text>
<text transform="translate(753.388,324.871) scale(0.12245,0.12857)" font-family="Liberation Serif" font-size="100" xml:space="preserve">3 km</text>
<text transform="translate(753.513,404.000) scale(0.12183,0.13043)" font-family="Liberation Serif" font-size="100" xml:space="preserve">2 km</text>
<text transform="translate(752.875,487.000) scale(0.12500,0.13043)" font-family="Liberation Serif" font-size="100" xml:space="preserve">1 km</text>
<text transform="translate(753.513,564.746) scale(0.12183,0.12676)" font-family="Liberation Serif" font-size="100" xml:space="preserve">0 km</text>
<text transform="translate(17.126,853.873) scale(0.10924,0.12676)" font-family="Liberation Sans" font-size="100" xml:space="preserve">19:00</text>
<text transform="translate(197.126,853.873) scale(0.10924,0.12676)" font-family="Liberation Sans" font-size="100" xml:space="preserve">19:15</text>
<text transform="translate(377.126,853.873) scale(0.10924,0.12676)" font-family="Liberation Sans" font-size="100" xml:space="preserve">19:30</text>
<text transform="translate(557.126,853.873) scale(0.10924,0.12676)" font-family="Liberation Sans" font-size="100" xml:space="preserve">19:45</text>
<text transform="translate(737.461,853.873) scale(0.10788,0.12676)" font-family="Liberation Sans" font-size="100" xml:space="preserve">20:00</text>
<text transform="translate(753.388,606.871) scale(0.12245,0.12857)" font-family="Liberation Serif" font-size="100" xml:space="preserve">3 km</text>
<text transform="translate(753.513,686.000) scale(0.12183,0.13043)" font-family="Liberation Serif" font-size="100" xml:space="preserve">2 km</text>
<text transform="translate(752.875,767.000) scale(0.12500,0.13043)" font-family="Liberation Serif" font-size="100" xml:space="preserve">1 km</text>
<text transform="translate(753.513,844.746) scale(0.12183,0.12676)" font-family="Liberation Serif" font-size="100" xml:space="preserve">0 km</text>
<text transform="translate(817.573,93.873) scale(0.10687,0.12676)" font-family="Liberation Sans" font-size="100" xml:space="preserve">8.0</text>
<text transform="translate(817.462,107.873) scale(0.10769,0.12676)" font-family="Liberation Sans" font-size="100" xml:space="preserve">7.0</text>
<text transform="translate(817.462,121.873) scale(0.10769,0.12676)" font-family="Liberation Sans" font-size="100" xml:space="preserve">6.0</text>
<text transform="translate(817.573,135.873) scale(0.10687,0.12676)" font-family="Liberation Sans" font-size="100" xml:space="preserve">5.0</text>
<text transform="translate(817.789,149.873) scale(0.10526,0.12676)" font-family="Liberation Sans" font-size="100" xml:space="preserve">4.0</text>
<text transform="translate(817.573,163.873) scale(0.10687,0.12676)" font-family="Liberation Sans" font-size="100" xml:space="preserve">3.0</text>
<text transform="translate(817.462,177.873) scale(0.10769,0.12676)" font-family="Liberation Sans" font-size="100" xml:space="preserve">2.0</text>
<text transform="translate(817.118,191.873) scale(0.11024,0.12676)" font-family="Liberation Sans" font-size="100" xml:space="preserve">1.0</text>
<text transform="translate(817.573,205.873) scale(0.10687,0.12676)" font-family="Liberation Sans" font-size="100" xml:space="preserve">0.0</text>
<text transform="translate(817.742,219.864) scale(0.12921,0.13636)" font-family="Liberation Serif" font-size="100" xml:space="preserve">miss</text>
<text transform="translate(800.755,75.864) scale(0.12230,0.13636)" font-family="Liberation Serif" font-size="100" xml:space="preserve">m/s</text>
<text transform="translate(817.788,368.873) scale(0.10582,0.12676)" font-family="Liberation Sans" font-size="100" xml:space="preserve">48.0</text>
<text transform="translate(817.126,388.873) scale(0.10929,0.12676)" font-family="Liberation Sans" font-size="100" xml:space="preserve">12.0</text>
<text transform="translate(817.462,408.873) scale(0.10769,0.12676)" font-family="Liberation Sans" font-size="100" xml:space="preserve">6.0</text>
<text transform="translate(817.573,427.873) scale(0.10687,0.12676)" font-family="Liberation Sans" font-size="100" xml:space="preserve">3.0</text>
<text transform="translate(817.118,446.871) scale(0.11024,0.12857)" font-family="Liberation Sans" font-size="100" xml:space="preserve">1.5</text>
<text transform="translate(817.573,466.873) scale(0.10687,0.12676)" font-family="Liberation Sans" font-size="100" xml:space="preserve">0.5</text>
<text transform="translate(817.600,484.873) scale(0.10000,0.12676)" font-family="Liberation Sans" font-size="100" xml:space="preserve">0.1</text>
<text transform="translate(817.573,494.873) scale(0.10687,0.12676)" font-family="Liberation Sans" font-size="100" xml:space="preserve">0.0</text>
<text transform="translate(817.742,503.864) scale(0.12921,0.13636)" font-family="Liberation Serif" font-size="100" xml:space="preserve">miss</text>
<text transform="translate(800.765,355.886) scale(0.11742,0.11429)" font-family="Liberation Serif" font-size="100" xml:space="preserve">mm/hr</text>
<text transform="translate(818.788,656.873) scale(0.10582,0.12676)" font-family="Liberation Sans" font-size="100" xml:space="preserve">40.0</text>
<text transform="translate(818.572,669.873) scale(0.10695,0.12676)" font-family="Liberation Sans" font-size="100" xml:space="preserve">35.0</text>
<text transform="translate(818.572,682.873) scale(0.10695,0.12676)" font-family="Liberation Sans" font-size="100" xml:space="preserve">30.0</text>
<text transform="translate(818.462,694.873) scale(0.10753,0.12676)" font-family="Liberation Sans" font-size="100" xml:space="preserve">25.0</text>
<text transform="translate(818.462,707.873) scale(0.10753,0.12676)" font-family="Liberation Sans" font-size="100" xml:space="preserve">20.0</text>
<text transform="translate(818.126,719.873) scale(0.10929,0.12676)" font-family="Liberation Sans" font-size="100" xml:space="preserve">15.0</text>
<text transform="translate(818.126,732.873) scale(0.10929,0.12676)" font-family="Liberation Sans" font-size="100" xml:space="preserve">10.0</text>
<text transform="translate(818.573,744.873) scale(0.10687,0.12676)" font-family="Liberation Sans" font-size="100" xml:space="preserve">5.0</text>
<text transform="translate(818.573,757.873) scale(0.10687,0.12676)" font-family="Liberation Sans" font-size="100" xml:space="preserve">0.0</text>
<text transform="translate(818.441,769.873) scale(0.11170,0.12676)" font-family="Liberation Sans" font-size="100" xml:space="preserve">−5.0</text>
<text transform="translate(818.746,778.875) scale(0.12698,0.12500)" font-family="Liberation Serif" font-size="100" xml:space="preserve">none</text>
<text transform="translate(800.524,636.871) scale(0.11905,0.12857)" font-family="Liberation Serif" font-size="100" xml:space="preserve">dBZ</text>
<text transform="translate(19.400,225.760) rotate(-90) scale(0.25344,0.26667)" font-family="Liberation Serif" font-size="100" xml:space="preserve">Fall Velocity</text>
<text transform="translate(19.140,512.755) rotate(-90) scale(0.25179,0.27907)" font-family="Liberation Serif" font-size="100" xml:space="preserve">Rain Intensity</text>
<text transform="translate(19.522,779.723) rotate(-90) scale(0.24094,0.26087)" font-family="Liberation Serif" font-size="100" xml:space="preserve">Reflectivity</text>
</svg></body></html>
